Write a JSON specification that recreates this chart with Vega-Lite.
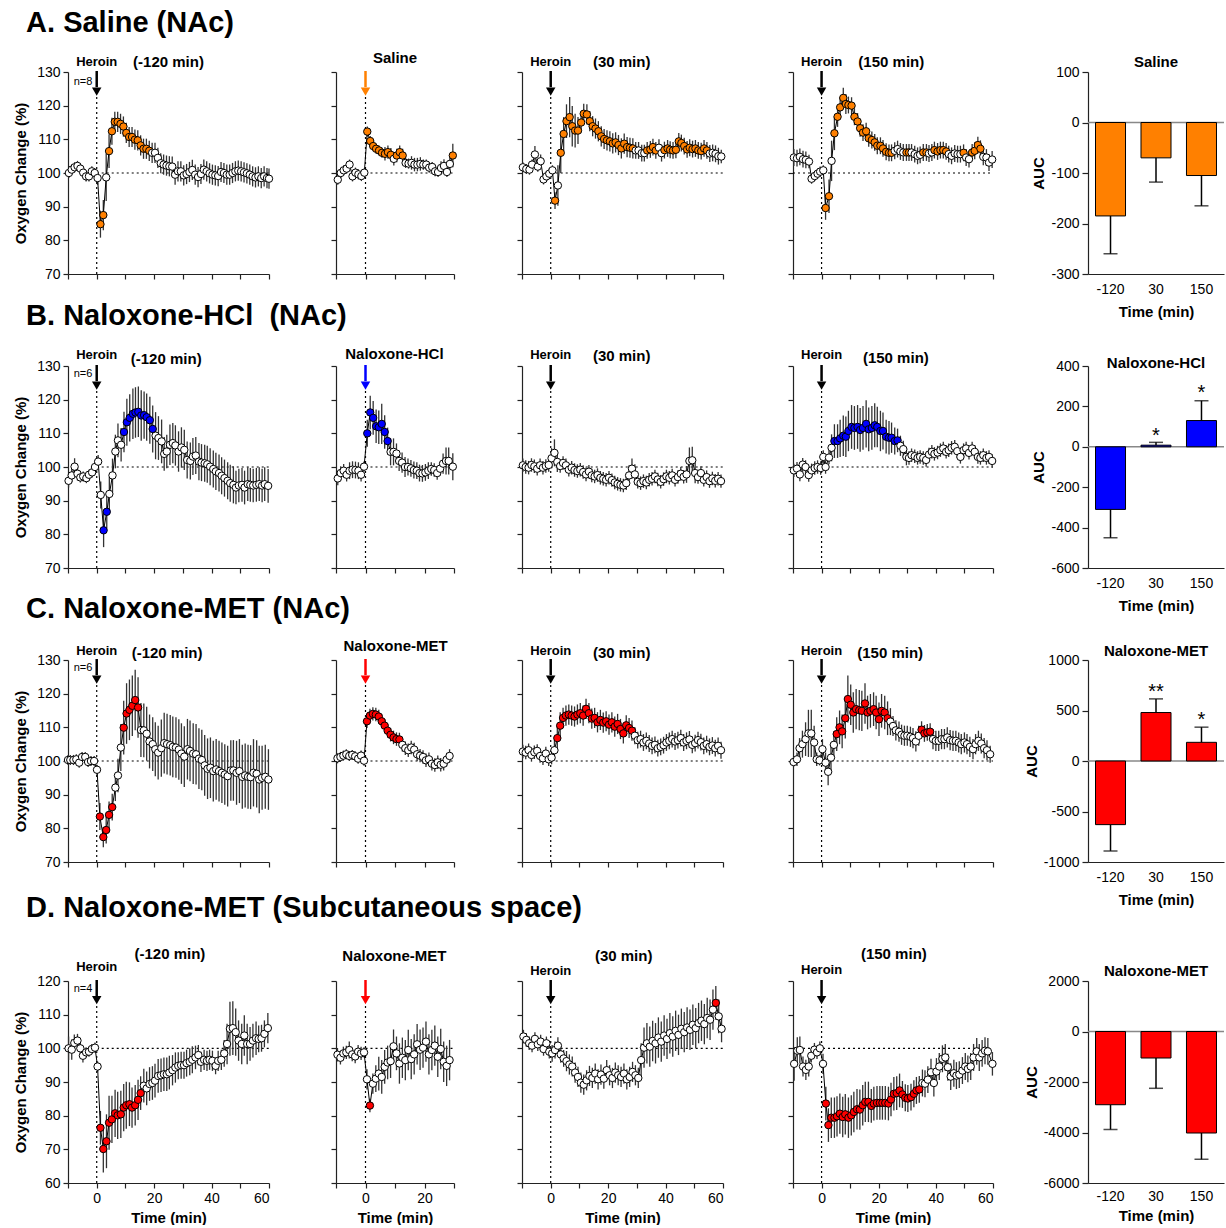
{
"$schema":"https://vega.github.io/schema/vega-lite/v6.json",
"padding":{"left":13,"top":8,"right":0,"bottom":0},
"config":{"view":{"stroke":null},"font":"Liberation Sans",
"axis":{"grid":false,"domainColor":"#222","domainWidth":1.2,"tickColor":"#222","tickWidth":1.2,"tickSize":5,"labelFont":"Liberation Sans","labelFontSize":14,"labelColor":"black","labelPadding":3,"titleFont":"Liberation Sans","titleFontSize":15,"titleFontWeight":"bold","titleColor":"black"},
"text":{"font":"Liberation Sans","color":"black"},
"locale":{"number":{"decimal":".","thousands":"","grouping":[3],"currency":["$",""],"minus":"-"}}},
"datasets":{
"A1":[{"t":-9.7,"y":100,"e":1.5},{"t":-8.7,"y":101,"e":1.5},{"t":-7.7,"y":101.7,"e":1.5},{"t":-6.7,"y":102.1,"e":1.5},{"t":-5.7,"y":101.3,"e":1.5},{"t":-4.7,"y":100.1,"e":1.5},{"t":-3.7,"y":99,"e":1.5},{"t":-2.7,"y":99,"e":1.5},{"t":-1.7,"y":100.5,"e":1.5},{"t":-0.7,"y":100,"e":1.5},{"t":0.3,"y":98.5,"e":2},{"t":1.3,"y":84.8,"e":4,"f":1},{"t":2.3,"y":87.5,"e":4.5,"f":1},{"t":3.3,"y":98.7,"e":7},{"t":4.3,"y":106.5,"e":5,"f":1},{"t":5.3,"y":112.4,"e":4,"f":1},{"t":6.3,"y":115.2,"e":3,"f":1},{"t":7.3,"y":115.2,"e":3,"f":1},{"t":8.3,"y":114.6,"e":3,"f":1},{"t":9.3,"y":113.8,"e":3,"f":1},{"t":10.3,"y":111.9,"e":3,"f":1},{"t":11.3,"y":110.7,"e":3,"f":1},{"t":12.3,"y":110.7,"e":3,"f":1},{"t":13.3,"y":109.9,"e":3,"f":1},{"t":14.3,"y":109.7,"e":3,"f":1},{"t":15.3,"y":108.2,"e":3,"f":1},{"t":16.3,"y":107.2,"e":3,"f":1},{"t":17.3,"y":107.2,"e":3,"f":1},{"t":18.3,"y":106.6,"e":3,"f":1},{"t":19.3,"y":106,"e":3},{"t":20.3,"y":106,"e":3},{"t":21.3,"y":104.5,"e":3},{"t":22.3,"y":102.9,"e":3},{"t":23.3,"y":102.5,"e":3},{"t":24.3,"y":102.2,"e":3},{"t":25.3,"y":102,"e":3},{"t":26.3,"y":101.9,"e":3},{"t":27.3,"y":99.5,"e":3},{"t":28.3,"y":100.5,"e":3},{"t":29.3,"y":100.5,"e":3},{"t":30.3,"y":99.3,"e":3},{"t":31.3,"y":99.7,"e":3},{"t":32.3,"y":100.3,"e":3},{"t":33.3,"y":100.9,"e":3},{"t":34.3,"y":99.5,"e":3},{"t":35.3,"y":98.8,"e":3},{"t":36.3,"y":99.7,"e":3},{"t":37.3,"y":101,"e":3},{"t":38.3,"y":100.5,"e":3},{"t":39.3,"y":99.9,"e":3},{"t":40.3,"y":99.5,"e":3},{"t":41.3,"y":99.3,"e":3},{"t":42.3,"y":99.1,"e":3},{"t":43.3,"y":100.3,"e":3},{"t":44.3,"y":100,"e":3},{"t":45.3,"y":99.5,"e":3},{"t":46.3,"y":99.5,"e":3},{"t":47.3,"y":100,"e":3},{"t":48.3,"y":100.5,"e":3},{"t":49.3,"y":100.7,"e":3},{"t":50.3,"y":100.5,"e":3},{"t":51.3,"y":100.2,"e":3},{"t":52.3,"y":99.9,"e":3},{"t":53.3,"y":99.5,"e":3},{"t":54.3,"y":99,"e":3},{"t":55.3,"y":98.7,"e":3},{"t":56.3,"y":99,"e":3},{"t":57.3,"y":98.5,"e":3},{"t":58.3,"y":99,"e":3},{"t":59.3,"y":98.5,"e":3},{"t":60,"y":98.3,"e":3}],
"A2":[{"t":-9.4,"y":98,"e":1.5},{"t":-8.4,"y":100,"e":1.5},{"t":-7.4,"y":100.8,"e":1.5},{"t":-6.4,"y":101.3,"e":1.5},{"t":-5.4,"y":102.5,"e":1.5},{"t":-4.4,"y":99,"e":1.5},{"t":-3.4,"y":100.1,"e":1.5},{"t":-2.4,"y":99.6,"e":1.5},{"t":-1.4,"y":99.1,"e":1.5},{"t":-0.4,"y":100.1,"e":1},{"t":0.6,"y":112.3,"e":1.5,"f":1},{"t":1.6,"y":109.5,"e":1.5,"f":1},{"t":2.6,"y":108,"e":1.5,"f":1},{"t":3.6,"y":107.2,"e":1.5,"f":1},{"t":4.6,"y":106.7,"e":1.5,"f":1},{"t":5.6,"y":106,"e":1.5,"f":1},{"t":6.6,"y":105.7,"e":2,"f":1},{"t":7.6,"y":106.2,"e":2,"f":1},{"t":8.6,"y":105.4,"e":2,"f":1},{"t":9.6,"y":104.2,"e":2},{"t":10.6,"y":105.2,"e":2,"f":1},{"t":11.6,"y":106.2,"e":2,"f":1},{"t":12.6,"y":105.2,"e":2,"f":1},{"t":13.6,"y":103,"e":1.5},{"t":14.6,"y":102.8,"e":1.5},{"t":15.6,"y":103,"e":2},{"t":16.6,"y":102.5,"e":2},{"t":17.6,"y":102.5,"e":2},{"t":18.6,"y":102.7,"e":2},{"t":19.6,"y":102.5,"e":1.5},{"t":20.6,"y":102.5,"e":1.5},{"t":21.6,"y":101.6,"e":1.5},{"t":22.6,"y":101.8,"e":1.5},{"t":23.6,"y":100.5,"e":1.5},{"t":24.6,"y":100.3,"e":1.5},{"t":25.6,"y":101.5,"e":2},{"t":26.6,"y":102.1,"e":2},{"t":27.6,"y":100.3,"e":1.5},{"t":28.6,"y":102.7,"e":2},{"t":29.6,"y":105.2,"e":3.5,"f":1}],
"A3":[{"t":-9.7,"y":101.7,"e":1.5},{"t":-8.5,"y":101.2,"e":1.5},{"t":-7.4,"y":101,"e":1.5},{"t":-6.5,"y":102.5,"e":1.5},{"t":-5.5,"y":105.5,"e":2.5},{"t":-4.5,"y":101.9,"e":1.5},{"t":-3.5,"y":103.5,"e":2},{"t":-2.5,"y":98.1,"e":1.5},{"t":-1.5,"y":99,"e":1.5},{"t":-0.5,"y":99.8,"e":1.5},{"t":0.6,"y":100.8,"e":1.5},{"t":1.5,"y":91.8,"e":2.5,"f":1},{"t":2.5,"y":96.3,"e":6},{"t":3.5,"y":106,"e":6,"f":1},{"t":4.5,"y":111.6,"e":5,"f":1},{"t":5.5,"y":115.4,"e":5,"f":1},{"t":6.6,"y":116.6,"e":6,"f":1},{"t":7.5,"y":113.9,"e":6,"f":1},{"t":8.5,"y":112.6,"e":5,"f":1},{"t":9.5,"y":112.6,"e":4,"f":1},{"t":10.6,"y":115,"e":3,"f":1},{"t":11.5,"y":117.6,"e":3,"f":1},{"t":12.6,"y":117.4,"e":3,"f":1},{"t":13.6,"y":115.4,"e":3,"f":1},{"t":14.6,"y":113.9,"e":3,"f":1},{"t":15.6,"y":113.2,"e":3,"f":1},{"t":16.6,"y":112.4,"e":3,"f":1},{"t":17.6,"y":110.9,"e":3,"f":1},{"t":18.6,"y":110.1,"e":3,"f":1},{"t":19.6,"y":109.7,"e":3,"f":1},{"t":20.6,"y":109.4,"e":3,"f":1},{"t":21.6,"y":108.8,"e":3,"f":1},{"t":22.6,"y":109.1,"e":3,"f":1},{"t":23.6,"y":108.3,"e":3,"f":1},{"t":24.6,"y":107.3,"e":3,"f":1},{"t":25.6,"y":108.7,"e":3,"f":1},{"t":26.6,"y":107.7,"e":3,"f":1},{"t":27.6,"y":107.5,"e":3,"f":1},{"t":28.6,"y":107.3,"e":3,"f":1},{"t":29.6,"y":106.7,"e":2.5},{"t":30.6,"y":106.7,"e":2.5},{"t":31.7,"y":105.9,"e":2.5},{"t":32.6,"y":105.9,"e":2.5},{"t":33.6,"y":106.7,"e":2.5,"f":1},{"t":34.7,"y":107,"e":2.5,"f":1},{"t":35.6,"y":107.7,"e":2.5,"f":1},{"t":36.6,"y":106.7,"e":2.5,"f":1},{"t":37.7,"y":107.5,"e":2.5},{"t":38.6,"y":105.9,"e":2.5},{"t":39.6,"y":106.8,"e":2.5,"f":1},{"t":40.7,"y":107.3,"e":2.5,"f":1},{"t":41.6,"y":106.9,"e":2.5,"f":1},{"t":42.6,"y":106.7,"e":2.5,"f":1},{"t":43.6,"y":106.9,"e":2.5,"f":1},{"t":44.6,"y":109.4,"e":2.5,"f":1},{"t":45.5,"y":108.9,"e":2.5,"f":1},{"t":46.5,"y":108,"e":2.5,"f":1},{"t":47.5,"y":107,"e":2.5,"f":1},{"t":48.4,"y":107.5,"e":2.5,"f":1},{"t":49.4,"y":107.1,"e":2.5,"f":1},{"t":50.4,"y":107.3,"e":2.5,"f":1},{"t":51.4,"y":106.7,"e":2.5,"f":1},{"t":52.4,"y":106.5,"e":2.5,"f":1},{"t":53.4,"y":107.3,"e":2.5,"f":1},{"t":54.4,"y":106.7,"e":2.5,"f":1},{"t":55.4,"y":105.8,"e":2.5},{"t":56.4,"y":106,"e":2.5},{"t":57.4,"y":105.7,"e":2.5},{"t":58.4,"y":105,"e":2.5},{"t":59.4,"y":104.9,"e":2}],
"A4":[{"t":-9.7,"y":104.6,"e":2.5},{"t":-8.6,"y":104.4,"e":2.5},{"t":-7.6,"y":104.8,"e":2.5},{"t":-6.5,"y":104.1,"e":2.5},{"t":-5.5,"y":103.9,"e":2.5},{"t":-4.4,"y":103.4,"e":2},{"t":-3.5,"y":98.3,"e":1.5},{"t":-2.4,"y":99.1,"e":1.5},{"t":-1.4,"y":99.8,"e":1.5},{"t":-0.5,"y":100.4,"e":1.5},{"t":0.6,"y":100.8,"e":1.5},{"t":1.4,"y":89.6,"e":3.5,"f":1},{"t":2.6,"y":93.1,"e":5,"f":1},{"t":3.5,"y":103.6,"e":6},{"t":4.5,"y":111.8,"e":5,"f":1},{"t":5.6,"y":116.7,"e":3,"f":1},{"t":6.5,"y":119.5,"e":3,"f":1},{"t":7.6,"y":122.3,"e":3,"f":1},{"t":8.5,"y":120.5,"e":3,"f":1},{"t":9.4,"y":120.2,"e":2.5,"f":1},{"t":10.5,"y":120,"e":2.5,"f":1},{"t":11.5,"y":116.7,"e":2.5,"f":1},{"t":12.6,"y":115.3,"e":2.5,"f":1},{"t":13.5,"y":113.3,"e":2.5,"f":1},{"t":14.5,"y":112,"e":2.5,"f":1},{"t":15.6,"y":112.4,"e":2.5,"f":1},{"t":16.5,"y":110.3,"e":2.5,"f":1},{"t":17.6,"y":109.8,"e":2.5,"f":1},{"t":18.6,"y":109.1,"e":2.5,"f":1},{"t":19.5,"y":108.1,"e":2.5,"f":1},{"t":20.6,"y":108.1,"e":2.5,"f":1},{"t":21.5,"y":107.3,"e":2.5,"f":1},{"t":22.6,"y":106.3,"e":2.5,"f":1},{"t":23.6,"y":106,"e":2.5,"f":1},{"t":24.5,"y":106,"e":2.5,"f":1},{"t":25.6,"y":106.6,"e":2.5},{"t":26.6,"y":107.1,"e":2.5},{"t":27.6,"y":106.4,"e":2.5},{"t":28.6,"y":106.1,"e":2.5},{"t":29.7,"y":106.1,"e":2.5,"f":1},{"t":30.6,"y":106.1,"e":2.5,"f":1},{"t":31.5,"y":106.1,"e":2.5},{"t":32.6,"y":105.6,"e":2.5},{"t":33.6,"y":105.1,"e":2.5},{"t":34.5,"y":105.4,"e":2.5},{"t":35.6,"y":106.1,"e":2.5,"f":1},{"t":36.7,"y":106.1,"e":2.5,"f":1},{"t":37.6,"y":105.8,"e":2.5},{"t":38.6,"y":106.1,"e":2.5},{"t":39.5,"y":106.8,"e":2.5,"f":1},{"t":40.6,"y":106.4,"e":2.5,"f":1},{"t":41.6,"y":106.8,"e":2.5,"f":1},{"t":42.6,"y":106.8,"e":2.5,"f":1},{"t":43.6,"y":106.4,"e":2.5,"f":1},{"t":44.5,"y":105.6,"e":2.5},{"t":45.5,"y":105.1,"e":2.5},{"t":46.6,"y":105.8,"e":2.5},{"t":47.6,"y":105.6,"e":2.5},{"t":48.6,"y":105.6,"e":2.5},{"t":49.7,"y":106,"e":2.5,"f":1},{"t":50.6,"y":104.6,"e":2.5},{"t":51.6,"y":104.1,"e":2.5},{"t":52.7,"y":106.1,"e":2.5,"f":1},{"t":53.6,"y":106.6,"e":2.5,"f":1},{"t":54.7,"y":108.3,"e":2.5,"f":1},{"t":55.6,"y":107.2,"e":2.5,"f":1},{"t":56.6,"y":104.8,"e":2.5},{"t":57.7,"y":104.6,"e":2.5},{"t":58.6,"y":103.1,"e":2.5},{"t":59.7,"y":104,"e":2.5}],
"B1":[{"t":-9.8,"y":95.9,"e":2},{"t":-8.7,"y":97.5,"e":2},{"t":-7.7,"y":100.1,"e":2.5},{"t":-6.7,"y":98,"e":2},{"t":-5.7,"y":96.9,"e":1.5},{"t":-4.7,"y":97.2,"e":1.5},{"t":-3.6,"y":96.7,"e":1.5},{"t":-2.7,"y":97.7,"e":1.5},{"t":-1.6,"y":98.4,"e":1.5},{"t":-0.6,"y":100,"e":2},{"t":0.5,"y":101.6,"e":2},{"t":1.4,"y":91.7,"e":4},{"t":2.4,"y":81.2,"e":5,"f":1},{"t":3.5,"y":86.7,"e":5,"f":1},{"t":4.4,"y":92,"e":5},{"t":5.5,"y":97.5,"e":5},{"t":6.5,"y":104.6,"e":5},{"t":7.4,"y":107.9,"e":5},{"t":8.5,"y":106.6,"e":5},{"t":9.5,"y":110.4,"e":6,"f":1},{"t":10.5,"y":113.3,"e":7,"f":1},{"t":11.5,"y":114.6,"e":7,"f":1},{"t":12.6,"y":115.8,"e":7.5,"f":1},{"t":13.5,"y":116.2,"e":7.5,"f":1},{"t":14.5,"y":116.4,"e":7.5,"f":1},{"t":15.5,"y":115.3,"e":7.5,"f":1},{"t":16.5,"y":115.4,"e":7,"f":1},{"t":17.4,"y":114.8,"e":7,"f":1},{"t":18.5,"y":113.9,"e":7,"f":1},{"t":19.5,"y":111.3,"e":7,"f":1},{"t":20.5,"y":109.3,"e":7},{"t":21.5,"y":108.6,"e":6.5},{"t":22.6,"y":107.6,"e":6.5},{"t":23.5,"y":103.9,"e":5},{"t":24.4,"y":104.6,"e":5},{"t":25.5,"y":106.6,"e":6},{"t":26.5,"y":107.1,"e":6},{"t":27.4,"y":106.4,"e":6},{"t":28.5,"y":104.6,"e":6},{"t":29.5,"y":105.8,"e":6},{"t":30.5,"y":105.1,"e":6},{"t":31.5,"y":102.1,"e":5.5},{"t":32.6,"y":101.8,"e":5.5},{"t":33.5,"y":103.1,"e":5.5},{"t":34.5,"y":103.4,"e":5.5},{"t":35.6,"y":101.6,"e":5.5},{"t":36.5,"y":101.3,"e":5.5},{"t":37.6,"y":101.1,"e":5.5},{"t":38.5,"y":100.8,"e":5.5},{"t":39.5,"y":100.1,"e":5.5},{"t":40.6,"y":99.4,"e":5.5},{"t":41.5,"y":98.7,"e":5.5},{"t":42.6,"y":98.2,"e":5.5},{"t":43.5,"y":97.4,"e":5.5},{"t":44.5,"y":96.7,"e":5.5},{"t":45.6,"y":95.9,"e":5.5},{"t":46.5,"y":95.2,"e":5.5},{"t":47.6,"y":94.7,"e":5.5},{"t":48.5,"y":93.9,"e":5},{"t":49.5,"y":94.5,"e":5},{"t":50.6,"y":94.7,"e":5},{"t":51.5,"y":93.9,"e":5},{"t":52.6,"y":94.9,"e":5},{"t":53.5,"y":94.7,"e":5},{"t":54.5,"y":94.5,"e":5},{"t":55.6,"y":94.7,"e":5},{"t":56.6,"y":94.9,"e":5},{"t":57.6,"y":94.5,"e":5},{"t":58.5,"y":94.9,"e":5},{"t":59.7,"y":94.4,"e":5}],
"B2":[{"t":-9.4,"y":96.6,"e":2},{"t":-8.4,"y":98.2,"e":2},{"t":-7.4,"y":98.9,"e":2},{"t":-6.4,"y":97.7,"e":2},{"t":-5.4,"y":98.9,"e":2.5},{"t":-4.4,"y":99.2,"e":2.5},{"t":-3.4,"y":99.1,"e":2.5},{"t":-2.4,"y":98.9,"e":2.5},{"t":-1.5,"y":97.7,"e":2},{"t":-0.5,"y":100.1,"e":1.5},{"t":0.6,"y":110,"e":4,"f":1},{"t":1.6,"y":116.2,"e":5,"f":1},{"t":2.6,"y":114.6,"e":5,"f":1},{"t":3.6,"y":112.1,"e":5,"f":1},{"t":4.5,"y":111.8,"e":5,"f":1},{"t":5.5,"y":112.8,"e":6,"f":1},{"t":6.5,"y":110.4,"e":5,"f":1},{"t":7.5,"y":107.7,"e":4,"f":1},{"t":8.5,"y":104.5,"e":4},{"t":9.5,"y":104.5,"e":4},{"t":10.5,"y":104,"e":3},{"t":11.4,"y":101.8,"e":3},{"t":12.4,"y":101.3,"e":3},{"t":13.4,"y":100,"e":3},{"t":14.4,"y":100,"e":2.5},{"t":15.4,"y":99.6,"e":2.5},{"t":16.4,"y":99.1,"e":2.5},{"t":17.4,"y":98.9,"e":2.5},{"t":18.3,"y":98.2,"e":2.5},{"t":19.3,"y":98.1,"e":2.5},{"t":20.3,"y":98.4,"e":2.5},{"t":21.3,"y":98.9,"e":2.5},{"t":22.3,"y":99.4,"e":2},{"t":23.3,"y":99.1,"e":2},{"t":24.3,"y":98.2,"e":2},{"t":25.3,"y":99.5,"e":2},{"t":26.3,"y":101,"e":3},{"t":27.3,"y":101.8,"e":4},{"t":28.2,"y":101.8,"e":4},{"t":29.6,"y":100.1,"e":4}],
"B3":[{"t":-9.7,"y":100.5,"e":2},{"t":-8.7,"y":100,"e":2},{"t":-7.7,"y":99.8,"e":2},{"t":-6.7,"y":100.6,"e":2},{"t":-5.7,"y":100.2,"e":2},{"t":-4.7,"y":99.5,"e":2},{"t":-3.7,"y":100.5,"e":2},{"t":-2.7,"y":99.8,"e":2},{"t":-1.7,"y":100.3,"e":2},{"t":-0.7,"y":100.6,"e":2},{"t":0.3,"y":102.6,"e":3},{"t":1.3,"y":104.2,"e":4},{"t":2.3,"y":101.5,"e":3},{"t":3.3,"y":100.3,"e":2},{"t":4.3,"y":101.2,"e":2},{"t":5.3,"y":100.5,"e":2},{"t":6.3,"y":99.2,"e":2},{"t":7.3,"y":99.8,"e":2},{"t":8.3,"y":99.1,"e":2},{"t":9.3,"y":98.8,"e":2},{"t":10.3,"y":99.2,"e":2},{"t":11.3,"y":98.5,"e":2},{"t":12.3,"y":97.8,"e":2},{"t":13.3,"y":98.6,"e":2},{"t":14.3,"y":97.5,"e":2},{"t":15.3,"y":97.2,"e":2},{"t":16.3,"y":97.6,"e":2},{"t":17.3,"y":96.8,"e":2},{"t":18.3,"y":96.5,"e":2},{"t":19.3,"y":96.2,"e":2},{"t":20.3,"y":96.8,"e":2},{"t":21.3,"y":96.1,"e":2},{"t":22.3,"y":95.4,"e":2},{"t":23.3,"y":95,"e":2},{"t":24.3,"y":94.7,"e":2},{"t":25.3,"y":94.5,"e":2},{"t":26.3,"y":95.2,"e":2},{"t":27.3,"y":97.5,"e":3},{"t":28.3,"y":99.5,"e":3},{"t":29.3,"y":97.8,"e":3},{"t":30.3,"y":95.6,"e":2},{"t":31.3,"y":95.2,"e":2},{"t":32.3,"y":95.8,"e":2},{"t":33.3,"y":95.4,"e":2},{"t":34.3,"y":96.2,"e":2},{"t":35.3,"y":96.5,"e":2},{"t":36.3,"y":97.2,"e":2},{"t":37.3,"y":96.3,"e":2},{"t":38.3,"y":95.6,"e":2},{"t":39.3,"y":96.4,"e":2},{"t":40.3,"y":97.2,"e":2},{"t":41.3,"y":96.8,"e":2},{"t":42.3,"y":97.5,"e":2},{"t":43.3,"y":96.2,"e":2},{"t":44.3,"y":97,"e":2},{"t":45.3,"y":98,"e":2},{"t":46.3,"y":97.1,"e":2},{"t":47.3,"y":97.8,"e":2.5},{"t":48.3,"y":101.8,"e":4},{"t":49.3,"y":102,"e":4},{"t":50.3,"y":98.2,"e":3},{"t":51.3,"y":97,"e":2},{"t":52.3,"y":98.2,"e":2},{"t":53.3,"y":96.2,"e":2},{"t":54.3,"y":97,"e":2},{"t":55.3,"y":95.8,"e":2},{"t":56.3,"y":96.6,"e":2},{"t":57.3,"y":95.9,"e":2},{"t":58.3,"y":96.5,"e":2},{"t":59.3,"y":95.8,"e":2}],
"B4":[{"t":-9.7,"y":99,"e":2},{"t":-8.6,"y":99.5,"e":2},{"t":-7.6,"y":97.8,"e":2},{"t":-6.6,"y":100.7,"e":2},{"t":-5.6,"y":100,"e":2},{"t":-4.5,"y":97.6,"e":2},{"t":-3.5,"y":99,"e":2},{"t":-2.4,"y":99.7,"e":2},{"t":-1.4,"y":100,"e":2},{"t":-0.3,"y":99.7,"e":2},{"t":0.6,"y":103,"e":2},{"t":1.4,"y":100,"e":2},{"t":2.6,"y":102.8,"e":2},{"t":3.5,"y":105.7,"e":4},{"t":4.5,"y":107.7,"e":5,"f":1},{"t":5.6,"y":107.7,"e":5,"f":1},{"t":6.5,"y":108.5,"e":5.5,"f":1},{"t":7.6,"y":109.3,"e":6,"f":1},{"t":8.5,"y":109,"e":6,"f":1},{"t":9.4,"y":110.7,"e":6,"f":1},{"t":10.5,"y":111.9,"e":6.5,"f":1},{"t":11.5,"y":111.6,"e":6.5,"f":1},{"t":12.6,"y":111.9,"e":6.5,"f":1},{"t":13.5,"y":111,"e":6.5,"f":1},{"t":14.5,"y":111.6,"e":6.5,"f":1},{"t":15.6,"y":112.8,"e":7,"f":1},{"t":16.5,"y":111.2,"e":6.5,"f":1},{"t":17.6,"y":111.6,"e":6.5,"f":1},{"t":18.6,"y":112.4,"e":6.5,"f":1},{"t":19.5,"y":111.9,"e":6,"f":1},{"t":20.6,"y":110.7,"e":6,"f":1},{"t":21.5,"y":110.7,"e":5.5,"f":1},{"t":22.6,"y":109,"e":5,"f":1},{"t":23.6,"y":108.7,"e":5,"f":1},{"t":24.5,"y":108.7,"e":4.5,"f":1},{"t":25.6,"y":107.7,"e":4,"f":1},{"t":26.6,"y":107.9,"e":3.5,"f":1},{"t":27.6,"y":106.3,"e":3},{"t":28.6,"y":105.3,"e":2.5},{"t":29.7,"y":103,"e":2.5},{"t":30.6,"y":102.7,"e":2},{"t":31.5,"y":103.5,"e":2},{"t":32.6,"y":103.2,"e":2},{"t":33.6,"y":102.7,"e":2},{"t":34.5,"y":103,"e":2},{"t":35.6,"y":102.7,"e":2},{"t":36.6,"y":102.1,"e":2},{"t":37.6,"y":103.7,"e":2},{"t":38.6,"y":104.5,"e":2},{"t":39.5,"y":103.9,"e":2},{"t":40.6,"y":104.3,"e":2},{"t":41.6,"y":105,"e":2},{"t":42.6,"y":105.5,"e":2},{"t":43.6,"y":104.5,"e":2},{"t":44.5,"y":105,"e":2},{"t":45.5,"y":105.7,"e":2},{"t":46.6,"y":106,"e":2},{"t":47.5,"y":104.7,"e":2},{"t":48.6,"y":103,"e":2},{"t":49.7,"y":105,"e":2},{"t":50.6,"y":105.5,"e":2},{"t":51.6,"y":104.2,"e":2},{"t":52.7,"y":105.5,"e":2},{"t":53.6,"y":104.5,"e":2},{"t":54.7,"y":103,"e":2},{"t":55.6,"y":102.7,"e":2},{"t":56.6,"y":103.5,"e":2},{"t":57.7,"y":102.7,"e":2},{"t":58.6,"y":103,"e":2},{"t":59.7,"y":101.8,"e":2}],
"C1":[{"t":-10,"y":100.3,"e":1.5},{"t":-9.2,"y":100.3,"e":1.5},{"t":-8.1,"y":100.3,"e":1.5},{"t":-7.1,"y":100.5,"e":1.5},{"t":-6.1,"y":99.5,"e":1.5},{"t":-5.1,"y":101.2,"e":1.5},{"t":-4,"y":101.2,"e":1.5},{"t":-3,"y":99.7,"e":1.5},{"t":-2,"y":100,"e":1.5},{"t":-0.9,"y":100,"e":1.5},{"t":0.1,"y":97.4,"e":1.5},{"t":1.1,"y":83.5,"e":4,"f":1},{"t":2.3,"y":77.4,"e":3,"f":1},{"t":3.3,"y":79.5,"e":4,"f":1},{"t":4.3,"y":84,"e":4,"f":1},{"t":5.4,"y":86.3,"e":4,"f":1},{"t":6.5,"y":92.1,"e":4},{"t":7.4,"y":95.7,"e":5},{"t":8.4,"y":104,"e":7},{"t":9.4,"y":109.9,"e":8,"f":1},{"t":10.4,"y":114.1,"e":9,"f":1},{"t":11.4,"y":115.2,"e":9,"f":1},{"t":12.4,"y":116.4,"e":9,"f":1},{"t":13.4,"y":118.1,"e":9,"f":1},{"t":14.4,"y":115.9,"e":9,"f":1},{"t":15.4,"y":109.2,"e":8},{"t":16.4,"y":109.1,"e":8},{"t":17.4,"y":108.1,"e":8},{"t":18.4,"y":105.8,"e":8},{"t":19.5,"y":105,"e":8},{"t":20.4,"y":103.5,"e":8},{"t":21.4,"y":102.5,"e":8},{"t":22.5,"y":103.8,"e":8.5},{"t":23.5,"y":105.3,"e":9},{"t":24.5,"y":105,"e":9},{"t":25.6,"y":104.7,"e":9},{"t":26.5,"y":104.2,"e":9},{"t":27.6,"y":104,"e":9},{"t":28.6,"y":103.4,"e":9},{"t":29.5,"y":102.2,"e":9},{"t":30.5,"y":101.3,"e":9},{"t":31.6,"y":103.5,"e":9},{"t":32.5,"y":103,"e":9},{"t":33.6,"y":102.2,"e":9},{"t":34.6,"y":102,"e":9},{"t":35.6,"y":100.7,"e":9},{"t":36.6,"y":100.3,"e":9},{"t":37.6,"y":98.7,"e":9},{"t":38.6,"y":97.7,"e":9},{"t":39.6,"y":98,"e":9},{"t":40.6,"y":97,"e":9},{"t":41.6,"y":97.5,"e":9},{"t":42.6,"y":97,"e":9},{"t":43.6,"y":96.5,"e":9},{"t":44.6,"y":96,"e":9},{"t":45.6,"y":95.5,"e":9},{"t":46.7,"y":97.2,"e":9},{"t":47.6,"y":97.2,"e":9},{"t":48.7,"y":96.5,"e":9.5},{"t":49.7,"y":97,"e":9.5},{"t":50.7,"y":95.3,"e":9.5},{"t":51.7,"y":95.7,"e":9.5},{"t":52.7,"y":95.3,"e":9.5},{"t":53.6,"y":95.2,"e":9.5},{"t":54.6,"y":96.5,"e":10},{"t":55.7,"y":96.2,"e":10},{"t":56.6,"y":94.5,"e":10},{"t":57.6,"y":95,"e":9.5},{"t":58.7,"y":95.3,"e":9.5},{"t":59.8,"y":94.5,"e":9}],
"C2":[{"t":-9.5,"y":100.8,"e":1.5},{"t":-8.5,"y":101.2,"e":1.5},{"t":-7.5,"y":101.6,"e":1.5},{"t":-6.5,"y":102,"e":1.5},{"t":-5.5,"y":101.5,"e":1.5},{"t":-4.5,"y":101.8,"e":1.5},{"t":-3.5,"y":101.4,"e":1.5},{"t":-2.5,"y":100.7,"e":1.5},{"t":-1.5,"y":101.6,"e":1.5},{"t":-0.5,"y":100.1,"e":1.5},{"t":0.5,"y":111.8,"e":2,"f":1},{"t":1.5,"y":113.5,"e":2,"f":1},{"t":2.5,"y":114,"e":2,"f":1},{"t":3.5,"y":113.8,"e":2,"f":1},{"t":4.5,"y":113.2,"e":2,"f":1},{"t":5.5,"y":111.8,"e":2,"f":1},{"t":6.5,"y":110.5,"e":2,"f":1},{"t":7.5,"y":109,"e":2,"f":1},{"t":8.5,"y":107.8,"e":2,"f":1},{"t":9.5,"y":107,"e":2,"f":1},{"t":10.5,"y":106.5,"e":2,"f":1},{"t":11.5,"y":106.4,"e":2,"f":1},{"t":12.5,"y":104.8,"e":2},{"t":13.5,"y":103.8,"e":2},{"t":14.5,"y":103.2,"e":2},{"t":15.5,"y":104,"e":2},{"t":16.5,"y":103.4,"e":2},{"t":17.5,"y":102,"e":2},{"t":18.5,"y":101.6,"e":2},{"t":19.5,"y":101.2,"e":2},{"t":20.5,"y":100.2,"e":2},{"t":21.5,"y":100.5,"e":2},{"t":22.5,"y":99.2,"e":2},{"t":23.5,"y":98.8,"e":2},{"t":24.5,"y":99.6,"e":2},{"t":25.5,"y":98.9,"e":2},{"t":26.5,"y":99.2,"e":2},{"t":27.5,"y":100.4,"e":2},{"t":28.5,"y":101.5,"e":2}],
"C3":[{"t":-9.7,"y":102.8,"e":2},{"t":-8.7,"y":102.5,"e":2},{"t":-7.7,"y":103.2,"e":2},{"t":-6.7,"y":101.8,"e":2},{"t":-5.7,"y":102.6,"e":2},{"t":-4.7,"y":103,"e":2},{"t":-3.7,"y":101.5,"e":2},{"t":-2.7,"y":100.8,"e":2},{"t":-1.7,"y":102.2,"e":2},{"t":-0.7,"y":100.5,"e":2},{"t":0.3,"y":101,"e":2},{"t":1.3,"y":103.2,"e":3},{"t":2.3,"y":106.8,"e":4,"f":1},{"t":3.3,"y":110.5,"e":4,"f":1},{"t":4.3,"y":112.8,"e":3,"f":1},{"t":5.3,"y":113.5,"e":3,"f":1},{"t":6.3,"y":113.8,"e":3,"f":1},{"t":7.3,"y":113.5,"e":3,"f":1},{"t":8.3,"y":113.2,"e":3,"f":1},{"t":9.3,"y":113.8,"e":3,"f":1},{"t":10.3,"y":114.2,"e":3,"f":1},{"t":11.3,"y":113.5,"e":3,"f":1},{"t":12.3,"y":115.5,"e":3,"f":1},{"t":13.3,"y":114.2,"e":3,"f":1},{"t":14.3,"y":112.6,"e":3,"f":1},{"t":15.3,"y":112.8,"e":3,"f":1},{"t":16.3,"y":111.5,"e":3,"f":1},{"t":17.3,"y":112.2,"e":3,"f":1},{"t":18.3,"y":111.4,"e":3,"f":1},{"t":19.3,"y":111.8,"e":3,"f":1},{"t":20.3,"y":110.8,"e":3,"f":1},{"t":21.3,"y":111.5,"e":3,"f":1},{"t":22.3,"y":110.2,"e":3,"f":1},{"t":23.3,"y":111,"e":3,"f":1},{"t":24.3,"y":109.5,"e":3,"f":1},{"t":25.3,"y":108.2,"e":3,"f":1},{"t":26.3,"y":110.6,"e":3,"f":1},{"t":27.3,"y":109.8,"e":3,"f":1},{"t":28.3,"y":109,"e":3,"f":1},{"t":29.3,"y":107.5,"e":2.5},{"t":30.3,"y":106.2,"e":2.5},{"t":31.3,"y":106.5,"e":2.5},{"t":32.3,"y":105.5,"e":2.5},{"t":33.3,"y":106,"e":2.5},{"t":34.3,"y":105.2,"e":2.5},{"t":35.3,"y":104.5,"e":2.5},{"t":36.3,"y":104.8,"e":2.5},{"t":37.3,"y":103.8,"e":2.5},{"t":38.3,"y":104.2,"e":2.5},{"t":39.3,"y":104.7,"e":2.5},{"t":40.3,"y":105.5,"e":2.5},{"t":41.3,"y":106,"e":2.5},{"t":42.3,"y":106.5,"e":2.5},{"t":43.3,"y":105.8,"e":2.5},{"t":44.3,"y":106.2,"e":2.5},{"t":45.3,"y":106.8,"e":2.5},{"t":46.3,"y":105.5,"e":2.5},{"t":47.3,"y":106,"e":2.5},{"t":48.3,"y":106.4,"e":2.5},{"t":49.3,"y":104.8,"e":2.5},{"t":50.3,"y":105.3,"e":2.5},{"t":51.3,"y":106.2,"e":2.5},{"t":52.3,"y":105.6,"e":2.5},{"t":53.3,"y":104.5,"e":2.5},{"t":54.3,"y":105,"e":2.5},{"t":55.3,"y":104.2,"e":2.5},{"t":56.3,"y":104.6,"e":2.5},{"t":57.3,"y":103.8,"e":2.5},{"t":58.3,"y":104.5,"e":2.5},{"t":59.3,"y":103.2,"e":2.5}],
"C4":[{"t":-9.8,"y":99.7,"e":1.5},{"t":-8.6,"y":100.5,"e":2},{"t":-7.7,"y":103.8,"e":3},{"t":-6.7,"y":105,"e":4},{"t":-5.6,"y":106.5,"e":5},{"t":-4.6,"y":108.2,"e":7},{"t":-3.6,"y":108.2,"e":7},{"t":-2.6,"y":105.5,"e":5},{"t":-1.7,"y":100.5,"e":2},{"t":-0.7,"y":100.2,"e":1.5},{"t":0.3,"y":103.5,"e":3},{"t":1.4,"y":99.5,"e":3},{"t":2.3,"y":96.8,"e":4},{"t":3.3,"y":101,"e":4},{"t":4.3,"y":104.8,"e":4},{"t":5.3,"y":108,"e":5,"f":1},{"t":6.3,"y":110,"e":5,"f":1},{"t":7.2,"y":108.8,"e":5,"f":1},{"t":8.3,"y":112.7,"e":6,"f":1},{"t":9.2,"y":118.4,"e":7,"f":1},{"t":10.2,"y":116.7,"e":6,"f":1},{"t":11.1,"y":114.4,"e":6,"f":1},{"t":12.1,"y":115.4,"e":6,"f":1},{"t":13.2,"y":115.1,"e":6,"f":1},{"t":14.1,"y":114.9,"e":6,"f":1},{"t":15.2,"y":117.1,"e":6,"f":1},{"t":16.1,"y":114.4,"e":5,"f":1},{"t":17.1,"y":114.9,"e":5,"f":1},{"t":18.2,"y":115.4,"e":5,"f":1},{"t":19.1,"y":114.4,"e":5,"f":1},{"t":20.1,"y":112.4,"e":5,"f":1},{"t":21,"y":114.9,"e":5,"f":1},{"t":22.1,"y":114.4,"e":5,"f":1},{"t":23.1,"y":112.7,"e":5,"f":1},{"t":24.1,"y":111.7,"e":4},{"t":25,"y":110.4,"e":3},{"t":26,"y":109.1,"e":3},{"t":27.1,"y":108.7,"e":3},{"t":28,"y":107.8,"e":3},{"t":29,"y":107.5,"e":3},{"t":30,"y":107.5,"e":3},{"t":31.1,"y":107.2,"e":3},{"t":32,"y":106.8,"e":3},{"t":33,"y":105.8,"e":3},{"t":34,"y":107.5,"e":3},{"t":35,"y":109.3,"e":2.5,"f":1},{"t":36,"y":108.2,"e":2.5,"f":1},{"t":37,"y":108.5,"e":2.5,"f":1},{"t":38,"y":108.7,"e":2.5,"f":1},{"t":39,"y":106.5,"e":3},{"t":40,"y":106,"e":3},{"t":41,"y":106,"e":3},{"t":42,"y":106.5,"e":3},{"t":43,"y":106.5,"e":3},{"t":44,"y":107,"e":3},{"t":45,"y":106.2,"e":3},{"t":46,"y":106,"e":3},{"t":47,"y":106,"e":3},{"t":48,"y":105.5,"e":3},{"t":48.9,"y":105,"e":3},{"t":50,"y":105.5,"e":3},{"t":50.9,"y":105,"e":3},{"t":51.9,"y":104.2,"e":3},{"t":53,"y":103.5,"e":3},{"t":53.9,"y":105,"e":3},{"t":54.9,"y":106,"e":3},{"t":55.9,"y":105.2,"e":3},{"t":56.9,"y":103.8,"e":3},{"t":57.9,"y":103.2,"e":3},{"t":59,"y":102,"e":2.5}],
"D1":[{"t":-9.8,"y":100,"e":3.5},{"t":-8.7,"y":99.6,"e":3},{"t":-7.8,"y":101.6,"e":2.5},{"t":-6.7,"y":102.3,"e":2},{"t":-5.7,"y":100,"e":2},{"t":-4.8,"y":97.8,"e":2},{"t":-3.7,"y":98.8,"e":1.5},{"t":-2.7,"y":99,"e":1.5},{"t":-1.7,"y":99.8,"e":1.5},{"t":-0.6,"y":100.2,"e":1.5},{"t":0.3,"y":94.6,"e":1.5},{"t":1.3,"y":76.4,"e":5,"f":1},{"t":2.3,"y":70.1,"e":7,"f":1},{"t":3.4,"y":72.4,"e":8,"f":1},{"t":4.3,"y":77.9,"e":8,"f":1},{"t":5.3,"y":78.9,"e":7,"f":1},{"t":6.4,"y":80.7,"e":7,"f":1},{"t":7.3,"y":80.1,"e":7,"f":1},{"t":8.4,"y":80.4,"e":7,"f":1},{"t":9.4,"y":82.4,"e":7,"f":1},{"t":10.3,"y":83.1,"e":7,"f":1},{"t":11.4,"y":83.4,"e":6.5,"f":1},{"t":12.3,"y":82.4,"e":6,"f":1},{"t":13.4,"y":83.1,"e":6,"f":1},{"t":14.4,"y":84.7,"e":6,"f":1},{"t":15.3,"y":86.7,"e":5,"f":1},{"t":16.4,"y":88.9,"e":5},{"t":17.4,"y":88.1,"e":5},{"t":18.4,"y":89.4,"e":5},{"t":19.4,"y":89.7,"e":5},{"t":20.3,"y":90.4,"e":5},{"t":21.4,"y":91.8,"e":5},{"t":22.4,"y":92,"e":5},{"t":23.4,"y":92.3,"e":5},{"t":24.4,"y":92.3,"e":5},{"t":25.3,"y":92.8,"e":5},{"t":26.4,"y":93.5,"e":4.5},{"t":27.4,"y":94.3,"e":4.5},{"t":28.4,"y":94.8,"e":4},{"t":29.4,"y":95,"e":4},{"t":30.4,"y":95,"e":4},{"t":31.3,"y":95.6,"e":4},{"t":32.4,"y":96,"e":4},{"t":33.3,"y":96.6,"e":4},{"t":34.4,"y":97.3,"e":3.5},{"t":35.4,"y":98,"e":3},{"t":36.3,"y":96,"e":3},{"t":37.4,"y":96.6,"e":3},{"t":38.4,"y":96.3,"e":3},{"t":39.3,"y":96.6,"e":3},{"t":40.3,"y":96.3,"e":3},{"t":41.4,"y":94.8,"e":2.5},{"t":42.3,"y":96.3,"e":3},{"t":43.4,"y":96.6,"e":3},{"t":44.4,"y":98.5,"e":4},{"t":45.4,"y":101.3,"e":6},{"t":46.4,"y":105.8,"e":8},{"t":47.4,"y":106,"e":8},{"t":48.4,"y":104.8,"e":7},{"t":49.4,"y":102.3,"e":6},{"t":50.5,"y":101.3,"e":6},{"t":51.4,"y":103.8,"e":6},{"t":52.4,"y":101.3,"e":6},{"t":53.4,"y":101.3,"e":5},{"t":54.4,"y":102.3,"e":5},{"t":55.5,"y":103,"e":5},{"t":56.4,"y":102.8,"e":4},{"t":57.4,"y":103,"e":4},{"t":58.4,"y":104.3,"e":4},{"t":59.6,"y":106,"e":4.5}],
"D2":[{"t":-9.5,"y":98.1,"e":2},{"t":-8.5,"y":97.2,"e":2},{"t":-7.5,"y":98.5,"e":2},{"t":-6.5,"y":98.8,"e":2},{"t":-5.5,"y":99.5,"e":2.5},{"t":-4.5,"y":98.2,"e":2},{"t":-3.5,"y":97.6,"e":2},{"t":-2.5,"y":99,"e":2},{"t":-1.5,"y":98.5,"e":2},{"t":-0.5,"y":98.8,"e":1.5},{"t":0.5,"y":90.8,"e":3},{"t":1.5,"y":83,"e":2,"f":1},{"t":2.5,"y":89.5,"e":3},{"t":3.5,"y":91,"e":4},{"t":4.5,"y":92.5,"e":5},{"t":5.5,"y":91.5,"e":5},{"t":6.5,"y":94.5,"e":5},{"t":7.5,"y":95.8,"e":5},{"t":8.5,"y":96.2,"e":5},{"t":9.5,"y":100.6,"e":5},{"t":10.5,"y":98.5,"e":5},{"t":11.5,"y":95.5,"e":6},{"t":12.5,"y":97.2,"e":6},{"t":13.5,"y":96.5,"e":6},{"t":14.5,"y":99.5,"e":6},{"t":15.5,"y":96.8,"e":6},{"t":16.5,"y":98.2,"e":6},{"t":17.5,"y":101.2,"e":6},{"t":18.5,"y":99.6,"e":6},{"t":19.5,"y":100.2,"e":6},{"t":20.5,"y":102,"e":6},{"t":21.5,"y":98.2,"e":6},{"t":22.5,"y":99.5,"e":6},{"t":23.5,"y":100.8,"e":6},{"t":24.5,"y":97.5,"e":6},{"t":25.5,"y":99.8,"e":6},{"t":26.5,"y":96,"e":6},{"t":27.5,"y":94.8,"e":6},{"t":28.5,"y":96.5,"e":6}],
"D3":[{"t":-9.5,"y":103.5,"e":2},{"t":-8.5,"y":102.5,"e":2},{"t":-7.5,"y":101.5,"e":2},{"t":-6.5,"y":100.8,"e":2},{"t":-5.5,"y":102.8,"e":2},{"t":-4.5,"y":101.2,"e":2},{"t":-3.5,"y":102,"e":2},{"t":-2.5,"y":99.8,"e":2},{"t":-1.5,"y":101.5,"e":2},{"t":-0.5,"y":99,"e":2},{"t":0.5,"y":98.5,"e":2.5},{"t":1.5,"y":99.5,"e":2.5},{"t":2.5,"y":100.8,"e":2.5},{"t":3.5,"y":98.2,"e":2.5},{"t":4.5,"y":97,"e":2.5},{"t":5.5,"y":96.2,"e":3},{"t":6.5,"y":95.2,"e":3},{"t":7.5,"y":94.6,"e":3},{"t":8.5,"y":92.8,"e":3},{"t":9.5,"y":91.5,"e":3},{"t":10.5,"y":89.8,"e":3},{"t":11.5,"y":89.2,"e":3},{"t":12.5,"y":90.5,"e":3},{"t":13.5,"y":91.8,"e":3},{"t":14.5,"y":91.2,"e":3},{"t":15.5,"y":92.5,"e":3},{"t":16.5,"y":90.8,"e":3},{"t":17.5,"y":92.2,"e":3},{"t":18.5,"y":91,"e":3},{"t":19.5,"y":93.5,"e":3},{"t":20.5,"y":92,"e":3},{"t":21.5,"y":91.2,"e":3},{"t":22.5,"y":92.8,"e":3},{"t":23.5,"y":92,"e":3},{"t":24.5,"y":91.5,"e":3},{"t":25.5,"y":92.5,"e":3},{"t":26.5,"y":90.8,"e":3},{"t":27.5,"y":91.5,"e":3},{"t":28.5,"y":93,"e":3},{"t":29.5,"y":92,"e":3},{"t":30.5,"y":91.2,"e":3},{"t":31.5,"y":96.5,"e":5},{"t":32.5,"y":100.2,"e":6},{"t":33.5,"y":101.5,"e":6},{"t":34.5,"y":100.5,"e":6},{"t":35.5,"y":102.2,"e":6},{"t":36.5,"y":101.5,"e":6},{"t":37.5,"y":103.2,"e":6},{"t":38.5,"y":102,"e":6},{"t":39.5,"y":103.8,"e":6},{"t":40.5,"y":102.8,"e":6},{"t":41.5,"y":104.5,"e":6},{"t":42.5,"y":103.5,"e":6},{"t":43.5,"y":105.2,"e":6},{"t":44.5,"y":104,"e":6},{"t":45.5,"y":105.8,"e":6},{"t":46.5,"y":104.8,"e":6},{"t":47.5,"y":106.2,"e":6},{"t":48.5,"y":105.5,"e":6},{"t":49.5,"y":107,"e":6},{"t":50.5,"y":106,"e":6},{"t":51.5,"y":107.5,"e":6},{"t":52.5,"y":108.2,"e":6},{"t":53.5,"y":107.2,"e":6},{"t":54.5,"y":109,"e":6},{"t":55.5,"y":108.5,"e":6},{"t":56.5,"y":111.5,"e":6},{"t":57.5,"y":113.5,"e":5,"f":1},{"t":58.5,"y":109.5,"e":5},{"t":59.5,"y":105.8,"e":4}],
"D4":[{"t":-9.6,"y":95.4,"e":5},{"t":-8.5,"y":99.3,"e":4},{"t":-7.6,"y":99.5,"e":4},{"t":-6.5,"y":94.6,"e":3},{"t":-5.5,"y":93.6,"e":3},{"t":-4.5,"y":94.6,"e":3},{"t":-3.6,"y":97.8,"e":2},{"t":-2.5,"y":99.6,"e":2},{"t":-1.6,"y":98.8,"e":2},{"t":-0.6,"y":100,"e":2},{"t":0.5,"y":95.4,"e":3},{"t":1.5,"y":83.6,"e":5,"f":1},{"t":2.4,"y":77.2,"e":5,"f":1},{"t":3.4,"y":79.4,"e":6,"f":1},{"t":4.5,"y":79.4,"e":6,"f":1},{"t":5.4,"y":79.8,"e":6,"f":1},{"t":6.4,"y":80.6,"e":6,"f":1},{"t":7.4,"y":79.6,"e":6,"f":1},{"t":8.3,"y":80.4,"e":6,"f":1},{"t":9.4,"y":79.4,"e":6,"f":1},{"t":10.4,"y":80.1,"e":6,"f":1},{"t":11.3,"y":81.1,"e":6,"f":1},{"t":12.4,"y":81.9,"e":6,"f":1},{"t":13.4,"y":81.8,"e":6,"f":1},{"t":14.4,"y":83.1,"e":6,"f":1},{"t":15.3,"y":84.1,"e":6,"f":1},{"t":16.4,"y":84.1,"e":6,"f":1},{"t":17.4,"y":82.9,"e":5,"f":1},{"t":18.3,"y":83.6,"e":5,"f":1},{"t":19.4,"y":83.8,"e":5,"f":1},{"t":20.4,"y":83.8,"e":5,"f":1},{"t":21.3,"y":83.8,"e":5,"f":1},{"t":22.3,"y":83.8,"e":5,"f":1},{"t":23.4,"y":83.6,"e":5,"f":1},{"t":24.3,"y":84.8,"e":5,"f":1},{"t":25.3,"y":86.5,"e":5,"f":1},{"t":26.3,"y":86.7,"e":5,"f":1},{"t":27.3,"y":87.5,"e":5,"f":1},{"t":28.3,"y":86.3,"e":4,"f":1},{"t":29.3,"y":85.3,"e":4,"f":1},{"t":30.2,"y":85.1,"e":4,"f":1},{"t":31.3,"y":85.5,"e":4,"f":1},{"t":32.3,"y":86.5,"e":4,"f":1},{"t":33.2,"y":87.5,"e":4,"f":1},{"t":34.2,"y":87.8,"e":4,"f":1},{"t":35.3,"y":89.7,"e":4},{"t":36.2,"y":89.5,"e":4},{"t":37.2,"y":90.7,"e":4},{"t":38.3,"y":92.9,"e":4},{"t":39.3,"y":89.7,"e":4},{"t":40.2,"y":93.1,"e":4},{"t":41.2,"y":94.6,"e":4},{"t":42.3,"y":96.9,"e":4},{"t":43.3,"y":97.3,"e":4},{"t":44.2,"y":94.4,"e":4},{"t":45.2,"y":91.6,"e":4},{"t":46.3,"y":92.6,"e":4},{"t":47.2,"y":91.9,"e":4},{"t":48.2,"y":92.2,"e":4},{"t":49.3,"y":93.4,"e":4},{"t":50.3,"y":94.6,"e":4},{"t":51.2,"y":93.9,"e":4},{"t":52.2,"y":94.6,"e":4},{"t":53.2,"y":97.3,"e":4},{"t":54.3,"y":99.1,"e":4},{"t":55.2,"y":97.3,"e":4},{"t":56.2,"y":98.5,"e":4},{"t":57.2,"y":99.3,"e":4},{"t":58.2,"y":99.1,"e":4},{"t":59.8,"y":95.4,"e":3.5}],
"A5":[{"g":"-120","v":-185,"e":-260},{"g":"30","v":-70,"e":-118},{"g":"150","v":-105,"e":-165}],
"B5":[{"g":"-120","v":-310,"e":-450},{"g":"30","v":8,"e":22},{"g":"150","v":130,"e":228}],
"C5":[{"g":"-120","v":-630,"e":-890},{"g":"30","v":480,"e":615},{"g":"150","v":185,"e":335}],
"D5":[{"g":"-120","v":-2900,"e":-3880},{"g":"30","v":-1050,"e":-2250},{"g":"150","v":-4020,"e":-5060}]
},
"columns":9,
"bounds":"flush",
"align":"each",
"spacing":{"row":92,"column":0},
"concat":[
{"width":201,"height":202,
"encoding":{"x":{"type":"quantitative","scale":{"domain":[-10,60],"nice":false},"axis":{"values":[-10,0,10,20,30,40,50,60],"labels":false,"title":null}},"y":{"type":"quantitative","scale":{"domain":[70,130],"nice":false},"axis":{"values":[70,80,90,100,110,120,130],"title":"Oxygen Change (%)","titlePadding":8}}},
"layer":[
{"data":{"values":[{}]},"mark":{"type":"rule","strokeDash":[2,3],"color":"black","strokeWidth":1.2},"encoding":{"x":{"datum":0},"x2":{"datum":60},"y":{"datum":100}}},
{"data":{"values":[{}]},"mark":{"type":"rule","strokeDash":[2,3],"color":"black","strokeWidth":1.2},"encoding":{"x":{"datum":0},"y":{"datum":70},"y2":{"datum":123}}},
{"data":{"name":"A1"},"mark":{"type":"errorbar","color":"#333","thickness":1.3},"encoding":{"x":{"field":"t"},"y":{"field":"y"},"yError":{"field":"e"}}},
{"data":{"name":"A1"},"mark":{"type":"line","color":"black","strokeWidth":1},"encoding":{"x":{"field":"t"},"y":{"field":"y"}}},
{"data":{"name":"A1"},"mark":{"type":"point","shape":"circle","filled":true,"size":55,"stroke":"black","strokeWidth":1,"opacity":1},"encoding":{"x":{"field":"t"},"y":{"field":"y"},"fill":{"condition":{"test":"datum.f==1","value":"#FF8000"},"value":"white"}}},
{"data":{"values":[{}]},"mark":{"type":"rule","color":"black","strokeWidth":2.5},"encoding":{"x":{"datum":0},"y":{"datum":130.3},"y2":{"datum":125.5}}},
{"data":{"values":[{}]},"mark":{"type":"point","shape":"triangle-down","filled":true,"color":"black","size":90,"opacity":1},"encoding":{"x":{"datum":0},"y":{"datum":124.2}}},
{"data":{"values":[{}]},"mark":{"type":"text","text":"Heroin","fontSize":13,"fontWeight":"bold"},"encoding":{"x":{"datum":0},"y":{"datum":133}}},
{"data":{"values":[{}]},"mark":{"type":"text","text":"(-120 min)","fontSize":15,"fontWeight":"bold"},"encoding":{"x":{"datum":25},"y":{"datum":133}}},
{"data":{"values":[{}]},"mark":{"type":"text","text":"n=8","fontSize":11,"align":"right"},"encoding":{"x":{"datum":-1.5},"y":{"datum":127}}},
{"data":{"values":[{}]},"mark":{"type":"text","text":"A. Saline (NAc)","fontSize":29,"fontWeight":"bold","align":"left"},"encoding":{"x":{"datum":-24.6},"y":{"datum":144.6}}}
]},
{"width":67,"height":10,"data":{"values":[]},"mark":"point","encoding":{}},
{"width":118,"height":202,
"encoding":{"x":{"type":"quantitative","scale":{"domain":[-10,30],"nice":false},"axis":{"values":[-10,0,10,20,30],"labels":false,"title":null}},"y":{"type":"quantitative","scale":{"domain":[70,130],"nice":false},"axis":{"values":[70,80,90,100,110,120,130],"labels":false,"title":null}}},
"layer":[
{"data":{"values":[{}]},"mark":{"type":"rule","strokeDash":[2,3],"color":"black","strokeWidth":1.2},"encoding":{"x":{"datum":0},"x2":{"datum":30},"y":{"datum":100}}},
{"data":{"values":[{}]},"mark":{"type":"rule","strokeDash":[2,3],"color":"black","strokeWidth":1.2},"encoding":{"x":{"datum":0},"y":{"datum":70},"y2":{"datum":123}}},
{"data":{"name":"A2"},"mark":{"type":"errorbar","color":"#333","thickness":1.3},"encoding":{"x":{"field":"t"},"y":{"field":"y"},"yError":{"field":"e"}}},
{"data":{"name":"A2"},"mark":{"type":"line","color":"black","strokeWidth":1},"encoding":{"x":{"field":"t"},"y":{"field":"y"}}},
{"data":{"name":"A2"},"mark":{"type":"point","shape":"circle","filled":true,"size":55,"stroke":"black","strokeWidth":1,"opacity":1},"encoding":{"x":{"field":"t"},"y":{"field":"y"},"fill":{"condition":{"test":"datum.f==1","value":"#FF8000"},"value":"white"}}},
{"data":{"values":[{}]},"mark":{"type":"rule","color":"#FF8000","strokeWidth":2.5},"encoding":{"x":{"datum":0},"y":{"datum":130.3},"y2":{"datum":125.5}}},
{"data":{"values":[{}]},"mark":{"type":"point","shape":"triangle-down","filled":true,"color":"#FF8000","size":90,"opacity":1},"encoding":{"x":{"datum":0},"y":{"datum":124.2}}},
{"data":{"values":[{}]},"mark":{"type":"text","text":"Saline","fontSize":15,"fontWeight":"bold"},"encoding":{"x":{"datum":10},"y":{"datum":134.2}}}
]},
{"width":68,"height":10,"data":{"values":[]},"mark":"point","encoding":{}},
{"width":201,"height":202,
"encoding":{"x":{"type":"quantitative","scale":{"domain":[-10,60],"nice":false},"axis":{"values":[-10,0,10,20,30,40,50,60],"labels":false,"title":null}},"y":{"type":"quantitative","scale":{"domain":[70,130],"nice":false},"axis":{"values":[70,80,90,100,110,120,130],"labels":false,"title":null}}},
"layer":[
{"data":{"values":[{}]},"mark":{"type":"rule","strokeDash":[2,3],"color":"black","strokeWidth":1.2},"encoding":{"x":{"datum":0},"x2":{"datum":60},"y":{"datum":100}}},
{"data":{"values":[{}]},"mark":{"type":"rule","strokeDash":[2,3],"color":"black","strokeWidth":1.2},"encoding":{"x":{"datum":0},"y":{"datum":70},"y2":{"datum":123}}},
{"data":{"name":"A3"},"mark":{"type":"errorbar","color":"#333","thickness":1.3},"encoding":{"x":{"field":"t"},"y":{"field":"y"},"yError":{"field":"e"}}},
{"data":{"name":"A3"},"mark":{"type":"line","color":"black","strokeWidth":1},"encoding":{"x":{"field":"t"},"y":{"field":"y"}}},
{"data":{"name":"A3"},"mark":{"type":"point","shape":"circle","filled":true,"size":55,"stroke":"black","strokeWidth":1,"opacity":1},"encoding":{"x":{"field":"t"},"y":{"field":"y"},"fill":{"condition":{"test":"datum.f==1","value":"#FF8000"},"value":"white"}}},
{"data":{"values":[{}]},"mark":{"type":"rule","color":"black","strokeWidth":2.5},"encoding":{"x":{"datum":0},"y":{"datum":130.3},"y2":{"datum":125.5}}},
{"data":{"values":[{}]},"mark":{"type":"point","shape":"triangle-down","filled":true,"color":"black","size":90,"opacity":1},"encoding":{"x":{"datum":0},"y":{"datum":124.2}}},
{"data":{"values":[{}]},"mark":{"type":"text","text":"Heroin","fontSize":13,"fontWeight":"bold"},"encoding":{"x":{"datum":0},"y":{"datum":133}}},
{"data":{"values":[{}]},"mark":{"type":"text","text":"(30 min)","fontSize":15,"fontWeight":"bold"},"encoding":{"x":{"datum":24.7},"y":{"datum":133}}}
]},
{"width":70,"height":10,"data":{"values":[]},"mark":"point","encoding":{}},
{"width":200,"height":202,
"encoding":{"x":{"type":"quantitative","scale":{"domain":[-10,60],"nice":false},"axis":{"values":[-10,0,10,20,30,40,50,60],"labels":false,"title":null}},"y":{"type":"quantitative","scale":{"domain":[70,130],"nice":false},"axis":{"values":[70,80,90,100,110,120,130],"labels":false,"title":null}}},
"layer":[
{"data":{"values":[{}]},"mark":{"type":"rule","strokeDash":[2,3],"color":"black","strokeWidth":1.2},"encoding":{"x":{"datum":-10},"x2":{"datum":60},"y":{"datum":100}}},
{"data":{"values":[{}]},"mark":{"type":"rule","strokeDash":[2,3],"color":"black","strokeWidth":1.2},"encoding":{"x":{"datum":0},"y":{"datum":70},"y2":{"datum":123}}},
{"data":{"name":"A4"},"mark":{"type":"errorbar","color":"#333","thickness":1.3},"encoding":{"x":{"field":"t"},"y":{"field":"y"},"yError":{"field":"e"}}},
{"data":{"name":"A4"},"mark":{"type":"line","color":"black","strokeWidth":1},"encoding":{"x":{"field":"t"},"y":{"field":"y"}}},
{"data":{"name":"A4"},"mark":{"type":"point","shape":"circle","filled":true,"size":55,"stroke":"black","strokeWidth":1,"opacity":1},"encoding":{"x":{"field":"t"},"y":{"field":"y"},"fill":{"condition":{"test":"datum.f==1","value":"#FF8000"},"value":"white"}}},
{"data":{"values":[{}]},"mark":{"type":"rule","color":"black","strokeWidth":2.5},"encoding":{"x":{"datum":0},"y":{"datum":130.3},"y2":{"datum":125.5}}},
{"data":{"values":[{}]},"mark":{"type":"point","shape":"triangle-down","filled":true,"color":"black","size":90,"opacity":1},"encoding":{"x":{"datum":0},"y":{"datum":124.2}}},
{"data":{"values":[{}]},"mark":{"type":"text","text":"Heroin","fontSize":13,"fontWeight":"bold"},"encoding":{"x":{"datum":0},"y":{"datum":133}}},
{"data":{"values":[{}]},"mark":{"type":"text","text":"(150 min)","fontSize":15,"fontWeight":"bold"},"encoding":{"x":{"datum":24.4},"y":{"datum":133}}}
]},
{"width":95,"height":10,"data":{"values":[]},"mark":"point","encoding":{}},
{"width":136,"height":202,"layer":[
{"data":{"values":[{}]},"mark":{"type":"rule","color":"#888","strokeWidth":1.5},"encoding":{"y":{"datum":0,"type":"quantitative"}}},
{"data":{"name":"A5"},"mark":{"type":"bar","fill":"#FF8000","stroke":"black","strokeWidth":1},"encoding":{"x":{"field":"g","type":"nominal","sort":["-120","30","150"],"scale":{"paddingInner":0.34,"paddingOuter":0.165},"axis":{"title":"Time (min)","labelAngle":0,"ticks":false,"labelPadding":8,"titlePadding":8}},"y":{"field":"v","type":"quantitative","scale":{"domain":[-300,100],"nice":false},"axis":{"title":"AUC","values":[-300,-250,-200,-150,-100,-50,0,50,100],"labelExpr":"datum.value % 100 == 0 ? datum.label : ''","tickSize":{"condition":{"test":"datum.value % 100 != 0","value":3},"value":6}}}}},
{"data":{"name":"A5"},"mark":{"type":"rule","color":"black","strokeWidth":1.5},"encoding":{"x":{"field":"g","type":"nominal","sort":["-120","30","150"]},"y":{"field":"v","type":"quantitative"},"y2":{"field":"e"}}},
{"data":{"name":"A5"},"mark":{"type":"tick","color":"black","thickness":1.5,"size":14},"encoding":{"x":{"field":"g","type":"nominal","sort":["-120","30","150"]},"y":{"field":"e","type":"quantitative"}}},
{"data":{"values":[{}]},"mark":{"type":"text","text":"Saline","fontSize":15,"fontWeight":"bold"},"encoding":{"x":{"datum":"30","type":"nominal"},"y":{"datum":120,"type":"quantitative"}}}
]},
{"width":201,"height":202,
"encoding":{"x":{"type":"quantitative","scale":{"domain":[-10,60],"nice":false},"axis":{"values":[-10,0,10,20,30,40,50,60],"labels":false,"title":null}},"y":{"type":"quantitative","scale":{"domain":[70,130],"nice":false},"axis":{"values":[70,80,90,100,110,120,130],"title":"Oxygen Change (%)","titlePadding":8}}},
"layer":[
{"data":{"values":[{}]},"mark":{"type":"rule","strokeDash":[2,3],"color":"black","strokeWidth":1.2},"encoding":{"x":{"datum":0},"x2":{"datum":60},"y":{"datum":100}}},
{"data":{"values":[{}]},"mark":{"type":"rule","strokeDash":[2,3],"color":"black","strokeWidth":1.2},"encoding":{"x":{"datum":0},"y":{"datum":70},"y2":{"datum":123}}},
{"data":{"name":"B1"},"mark":{"type":"errorbar","color":"#333","thickness":1.3},"encoding":{"x":{"field":"t"},"y":{"field":"y"},"yError":{"field":"e"}}},
{"data":{"name":"B1"},"mark":{"type":"line","color":"black","strokeWidth":1},"encoding":{"x":{"field":"t"},"y":{"field":"y"}}},
{"data":{"name":"B1"},"mark":{"type":"point","shape":"circle","filled":true,"size":55,"stroke":"black","strokeWidth":1,"opacity":1},"encoding":{"x":{"field":"t"},"y":{"field":"y"},"fill":{"condition":{"test":"datum.f==1","value":"#0000FF"},"value":"white"}}},
{"data":{"values":[{}]},"mark":{"type":"rule","color":"black","strokeWidth":2.5},"encoding":{"x":{"datum":0},"y":{"datum":130.3},"y2":{"datum":125.5}}},
{"data":{"values":[{}]},"mark":{"type":"point","shape":"triangle-down","filled":true,"color":"black","size":90,"opacity":1},"encoding":{"x":{"datum":0},"y":{"datum":124.2}}},
{"data":{"values":[{}]},"mark":{"type":"text","text":"Heroin","fontSize":13,"fontWeight":"bold"},"encoding":{"x":{"datum":0},"y":{"datum":133.3}}},
{"data":{"values":[{}]},"mark":{"type":"text","text":"(-120 min)","fontSize":15,"fontWeight":"bold"},"encoding":{"x":{"datum":24.2},"y":{"datum":132.1}}},
{"data":{"values":[{}]},"mark":{"type":"text","text":"n=6","fontSize":11,"align":"right"},"encoding":{"x":{"datum":-1.5},"y":{"datum":127.6}}},
{"data":{"values":[{}]},"mark":{"type":"text","text":"B. Naloxone-HCl\u00a0 (NAc)","fontSize":29,"fontWeight":"bold","align":"left"},"encoding":{"x":{"datum":-24.6},"y":{"datum":144.9}}}
]},
{"width":67,"height":10,"data":{"values":[]},"mark":"point","encoding":{}},
{"width":118,"height":202,
"encoding":{"x":{"type":"quantitative","scale":{"domain":[-10,30],"nice":false},"axis":{"values":[-10,0,10,20,30],"labels":false,"title":null}},"y":{"type":"quantitative","scale":{"domain":[70,130],"nice":false},"axis":{"values":[70,80,90,100,110,120,130],"labels":false,"title":null}}},
"layer":[
{"data":{"values":[{}]},"mark":{"type":"rule","strokeDash":[2,3],"color":"black","strokeWidth":1.2},"encoding":{"x":{"datum":0},"x2":{"datum":30},"y":{"datum":100}}},
{"data":{"values":[{}]},"mark":{"type":"rule","strokeDash":[2,3],"color":"black","strokeWidth":1.2},"encoding":{"x":{"datum":0},"y":{"datum":70},"y2":{"datum":123}}},
{"data":{"name":"B2"},"mark":{"type":"errorbar","color":"#333","thickness":1.3},"encoding":{"x":{"field":"t"},"y":{"field":"y"},"yError":{"field":"e"}}},
{"data":{"name":"B2"},"mark":{"type":"line","color":"black","strokeWidth":1},"encoding":{"x":{"field":"t"},"y":{"field":"y"}}},
{"data":{"name":"B2"},"mark":{"type":"point","shape":"circle","filled":true,"size":55,"stroke":"black","strokeWidth":1,"opacity":1},"encoding":{"x":{"field":"t"},"y":{"field":"y"},"fill":{"condition":{"test":"datum.f==1","value":"#0000FF"},"value":"white"}}},
{"data":{"values":[{}]},"mark":{"type":"rule","color":"#0000FF","strokeWidth":2.5},"encoding":{"x":{"datum":0},"y":{"datum":130.3},"y2":{"datum":125.5}}},
{"data":{"values":[{}]},"mark":{"type":"point","shape":"triangle-down","filled":true,"color":"#0000FF","size":90,"opacity":1},"encoding":{"x":{"datum":0},"y":{"datum":124.2}}},
{"data":{"values":[{}]},"mark":{"type":"text","text":"Naloxone-HCl","fontSize":15,"fontWeight":"bold"},"encoding":{"x":{"datum":9.8},"y":{"datum":133.6}}}
]},
{"width":68,"height":10,"data":{"values":[]},"mark":"point","encoding":{}},
{"width":201,"height":202,
"encoding":{"x":{"type":"quantitative","scale":{"domain":[-10,60],"nice":false},"axis":{"values":[-10,0,10,20,30,40,50,60],"labels":false,"title":null}},"y":{"type":"quantitative","scale":{"domain":[70,130],"nice":false},"axis":{"values":[70,80,90,100,110,120,130],"labels":false,"title":null}}},
"layer":[
{"data":{"values":[{}]},"mark":{"type":"rule","strokeDash":[2,3],"color":"black","strokeWidth":1.2},"encoding":{"x":{"datum":0},"x2":{"datum":60},"y":{"datum":100}}},
{"data":{"values":[{}]},"mark":{"type":"rule","strokeDash":[2,3],"color":"black","strokeWidth":1.2},"encoding":{"x":{"datum":0},"y":{"datum":70},"y2":{"datum":123}}},
{"data":{"name":"B3"},"mark":{"type":"errorbar","color":"#333","thickness":1.3},"encoding":{"x":{"field":"t"},"y":{"field":"y"},"yError":{"field":"e"}}},
{"data":{"name":"B3"},"mark":{"type":"line","color":"black","strokeWidth":1},"encoding":{"x":{"field":"t"},"y":{"field":"y"}}},
{"data":{"name":"B3"},"mark":{"type":"point","shape":"circle","filled":true,"size":55,"stroke":"black","strokeWidth":1,"opacity":1},"encoding":{"x":{"field":"t"},"y":{"field":"y"},"fill":{"condition":{"test":"datum.f==1","value":"#0000FF"},"value":"white"}}},
{"data":{"values":[{}]},"mark":{"type":"rule","color":"black","strokeWidth":2.5},"encoding":{"x":{"datum":0},"y":{"datum":130.3},"y2":{"datum":125.5}}},
{"data":{"values":[{}]},"mark":{"type":"point","shape":"triangle-down","filled":true,"color":"black","size":90,"opacity":1},"encoding":{"x":{"datum":0},"y":{"datum":124.2}}},
{"data":{"values":[{}]},"mark":{"type":"text","text":"Heroin","fontSize":13,"fontWeight":"bold"},"encoding":{"x":{"datum":0},"y":{"datum":133.3}}},
{"data":{"values":[{}]},"mark":{"type":"text","text":"(30 min)","fontSize":15,"fontWeight":"bold"},"encoding":{"x":{"datum":24.7},"y":{"datum":133}}}
]},
{"width":70,"height":10,"data":{"values":[]},"mark":"point","encoding":{}},
{"width":200,"height":202,
"encoding":{"x":{"type":"quantitative","scale":{"domain":[-10,60],"nice":false},"axis":{"values":[-10,0,10,20,30,40,50,60],"labels":false,"title":null}},"y":{"type":"quantitative","scale":{"domain":[70,130],"nice":false},"axis":{"values":[70,80,90,100,110,120,130],"labels":false,"title":null}}},
"layer":[
{"data":{"values":[{}]},"mark":{"type":"rule","strokeDash":[2,3],"color":"black","strokeWidth":1.2},"encoding":{"x":{"datum":0},"x2":{"datum":60},"y":{"datum":100}}},
{"data":{"values":[{}]},"mark":{"type":"rule","strokeDash":[2,3],"color":"black","strokeWidth":1.2},"encoding":{"x":{"datum":0},"y":{"datum":70},"y2":{"datum":123}}},
{"data":{"name":"B4"},"mark":{"type":"errorbar","color":"#333","thickness":1.3},"encoding":{"x":{"field":"t"},"y":{"field":"y"},"yError":{"field":"e"}}},
{"data":{"name":"B4"},"mark":{"type":"line","color":"black","strokeWidth":1},"encoding":{"x":{"field":"t"},"y":{"field":"y"}}},
{"data":{"name":"B4"},"mark":{"type":"point","shape":"circle","filled":true,"size":55,"stroke":"black","strokeWidth":1,"opacity":1},"encoding":{"x":{"field":"t"},"y":{"field":"y"},"fill":{"condition":{"test":"datum.f==1","value":"#0000FF"},"value":"white"}}},
{"data":{"values":[{}]},"mark":{"type":"rule","color":"black","strokeWidth":2.5},"encoding":{"x":{"datum":0},"y":{"datum":130.3},"y2":{"datum":125.5}}},
{"data":{"values":[{}]},"mark":{"type":"point","shape":"triangle-down","filled":true,"color":"black","size":90,"opacity":1},"encoding":{"x":{"datum":0},"y":{"datum":124.2}}},
{"data":{"values":[{}]},"mark":{"type":"text","text":"Heroin","fontSize":13,"fontWeight":"bold"},"encoding":{"x":{"datum":0},"y":{"datum":133.3}}},
{"data":{"values":[{}]},"mark":{"type":"text","text":"(150 min)","fontSize":15,"fontWeight":"bold"},"encoding":{"x":{"datum":26},"y":{"datum":132.4}}}
]},
{"width":95,"height":10,"data":{"values":[]},"mark":"point","encoding":{}},
{"width":136,"height":202,"layer":[
{"data":{"values":[{}]},"mark":{"type":"rule","color":"#888","strokeWidth":1.5},"encoding":{"y":{"datum":0,"type":"quantitative"}}},
{"data":{"name":"B5"},"mark":{"type":"bar","fill":"#0000FF","stroke":"black","strokeWidth":1},"encoding":{"x":{"field":"g","type":"nominal","sort":["-120","30","150"],"scale":{"paddingInner":0.34,"paddingOuter":0.165},"axis":{"title":"Time (min)","labelAngle":0,"ticks":false,"labelPadding":8,"titlePadding":8}},"y":{"field":"v","type":"quantitative","scale":{"domain":[-600,400],"nice":false},"axis":{"title":"AUC","values":[-600,-500,-400,-300,-200,-100,0,100,200,300,400],"labelExpr":"datum.value % 200 == 0 ? datum.label : ''","tickSize":{"condition":{"test":"datum.value % 200 != 0","value":3},"value":6}}}}},
{"data":{"name":"B5"},"mark":{"type":"rule","color":"black","strokeWidth":1.5},"encoding":{"x":{"field":"g","type":"nominal","sort":["-120","30","150"]},"y":{"field":"v","type":"quantitative"},"y2":{"field":"e"}}},
{"data":{"name":"B5"},"mark":{"type":"tick","color":"black","thickness":1.5,"size":14},"encoding":{"x":{"field":"g","type":"nominal","sort":["-120","30","150"]},"y":{"field":"e","type":"quantitative"}}},
{"data":{"values":[{}]},"mark":{"type":"text","text":"Naloxone-HCl","fontSize":15,"fontWeight":"bold"},"encoding":{"x":{"datum":"30","type":"nominal"},"y":{"datum":415,"type":"quantitative"}}},
{"data":{"values":[{}]},"mark":{"type":"text","text":"*","fontSize":20,"baseline":"alphabetic"},"encoding":{"x":{"datum":"30","type":"nominal"},"y":{"datum":25,"type":"quantitative"}}},
{"data":{"values":[{}]},"mark":{"type":"text","text":"*","fontSize":20,"baseline":"alphabetic"},"encoding":{"x":{"datum":"150","type":"nominal"},"y":{"datum":235,"type":"quantitative"}}}
]},
{"width":201,"height":202,
"encoding":{"x":{"type":"quantitative","scale":{"domain":[-10,60],"nice":false},"axis":{"values":[-10,0,10,20,30,40,50,60],"labels":false,"title":null}},"y":{"type":"quantitative","scale":{"domain":[70,130],"nice":false},"axis":{"values":[70,80,90,100,110,120,130],"title":"Oxygen Change (%)","titlePadding":8}}},
"layer":[
{"data":{"values":[{}]},"mark":{"type":"rule","strokeDash":[2,3],"color":"black","strokeWidth":1.2},"encoding":{"x":{"datum":0},"x2":{"datum":60},"y":{"datum":100}}},
{"data":{"values":[{}]},"mark":{"type":"rule","strokeDash":[2,3],"color":"black","strokeWidth":1.2},"encoding":{"x":{"datum":0},"y":{"datum":70},"y2":{"datum":123}}},
{"data":{"name":"C1"},"mark":{"type":"errorbar","color":"#333","thickness":1.3},"encoding":{"x":{"field":"t"},"y":{"field":"y"},"yError":{"field":"e"}}},
{"data":{"name":"C1"},"mark":{"type":"line","color":"black","strokeWidth":1},"encoding":{"x":{"field":"t"},"y":{"field":"y"}}},
{"data":{"name":"C1"},"mark":{"type":"point","shape":"circle","filled":true,"size":55,"stroke":"black","strokeWidth":1,"opacity":1},"encoding":{"x":{"field":"t"},"y":{"field":"y"},"fill":{"condition":{"test":"datum.f==1","value":"#FF0000"},"value":"white"}}},
{"data":{"values":[{}]},"mark":{"type":"rule","color":"black","strokeWidth":2.5},"encoding":{"x":{"datum":0},"y":{"datum":130.3},"y2":{"datum":125.5}}},
{"data":{"values":[{}]},"mark":{"type":"point","shape":"triangle-down","filled":true,"color":"black","size":90,"opacity":1},"encoding":{"x":{"datum":0},"y":{"datum":124.2}}},
{"data":{"values":[{}]},"mark":{"type":"text","text":"Heroin","fontSize":13,"fontWeight":"bold"},"encoding":{"x":{"datum":0},"y":{"datum":132.7}}},
{"data":{"values":[{}]},"mark":{"type":"text","text":"(-120 min)","fontSize":15,"fontWeight":"bold"},"encoding":{"x":{"datum":24.5},"y":{"datum":132.1}}},
{"data":{"values":[{}]},"mark":{"type":"text","text":"n=6","fontSize":11,"align":"right"},"encoding":{"x":{"datum":-1.5},"y":{"datum":127.6}}},
{"data":{"values":[{}]},"mark":{"type":"text","text":"C. Naloxone-MET (NAc)","fontSize":29,"fontWeight":"bold","align":"left"},"encoding":{"x":{"datum":-24.6},"y":{"datum":145.1}}}
]},
{"width":67,"height":229,"data":{"values":[]},"mark":"point","encoding":{}},
{"width":118,"height":202,
"encoding":{"x":{"type":"quantitative","scale":{"domain":[-10,30],"nice":false},"axis":{"values":[-10,0,10,20,30],"labels":false,"title":null}},"y":{"type":"quantitative","scale":{"domain":[70,130],"nice":false},"axis":{"values":[70,80,90,100,110,120,130],"labels":false,"title":null}}},
"layer":[
{"data":{"values":[{}]},"mark":{"type":"rule","strokeDash":[2,3],"color":"black","strokeWidth":1.2},"encoding":{"x":{"datum":0},"x2":{"datum":30},"y":{"datum":100}}},
{"data":{"values":[{}]},"mark":{"type":"rule","strokeDash":[2,3],"color":"black","strokeWidth":1.2},"encoding":{"x":{"datum":0},"y":{"datum":70},"y2":{"datum":123}}},
{"data":{"name":"C2"},"mark":{"type":"errorbar","color":"#333","thickness":1.3},"encoding":{"x":{"field":"t"},"y":{"field":"y"},"yError":{"field":"e"}}},
{"data":{"name":"C2"},"mark":{"type":"line","color":"black","strokeWidth":1},"encoding":{"x":{"field":"t"},"y":{"field":"y"}}},
{"data":{"name":"C2"},"mark":{"type":"point","shape":"circle","filled":true,"size":55,"stroke":"black","strokeWidth":1,"opacity":1},"encoding":{"x":{"field":"t"},"y":{"field":"y"},"fill":{"condition":{"test":"datum.f==1","value":"#FF0000"},"value":"white"}}},
{"data":{"values":[{}]},"mark":{"type":"rule","color":"#FF0000","strokeWidth":2.5},"encoding":{"x":{"datum":0},"y":{"datum":130.3},"y2":{"datum":125.5}}},
{"data":{"values":[{}]},"mark":{"type":"point","shape":"triangle-down","filled":true,"color":"#FF0000","size":90,"opacity":1},"encoding":{"x":{"datum":0},"y":{"datum":124.2}}},
{"data":{"values":[{}]},"mark":{"type":"text","text":"Naloxone-MET","fontSize":15,"fontWeight":"bold"},"encoding":{"x":{"datum":10.2},"y":{"datum":134.2}}}
]},
{"width":68,"height":10,"data":{"values":[]},"mark":"point","encoding":{}},
{"width":201,"height":202,
"encoding":{"x":{"type":"quantitative","scale":{"domain":[-10,60],"nice":false},"axis":{"values":[-10,0,10,20,30,40,50,60],"labels":false,"title":null}},"y":{"type":"quantitative","scale":{"domain":[70,130],"nice":false},"axis":{"values":[70,80,90,100,110,120,130],"labels":false,"title":null}}},
"layer":[
{"data":{"values":[{}]},"mark":{"type":"rule","strokeDash":[2,3],"color":"black","strokeWidth":1.2},"encoding":{"x":{"datum":0},"x2":{"datum":60},"y":{"datum":100}}},
{"data":{"values":[{}]},"mark":{"type":"rule","strokeDash":[2,3],"color":"black","strokeWidth":1.2},"encoding":{"x":{"datum":0},"y":{"datum":70},"y2":{"datum":123}}},
{"data":{"name":"C3"},"mark":{"type":"errorbar","color":"#333","thickness":1.3},"encoding":{"x":{"field":"t"},"y":{"field":"y"},"yError":{"field":"e"}}},
{"data":{"name":"C3"},"mark":{"type":"line","color":"black","strokeWidth":1},"encoding":{"x":{"field":"t"},"y":{"field":"y"}}},
{"data":{"name":"C3"},"mark":{"type":"point","shape":"circle","filled":true,"size":55,"stroke":"black","strokeWidth":1,"opacity":1},"encoding":{"x":{"field":"t"},"y":{"field":"y"},"fill":{"condition":{"test":"datum.f==1","value":"#FF0000"},"value":"white"}}},
{"data":{"values":[{}]},"mark":{"type":"rule","color":"black","strokeWidth":2.5},"encoding":{"x":{"datum":0},"y":{"datum":130.3},"y2":{"datum":125.5}}},
{"data":{"values":[{}]},"mark":{"type":"point","shape":"triangle-down","filled":true,"color":"black","size":90,"opacity":1},"encoding":{"x":{"datum":0},"y":{"datum":124.2}}},
{"data":{"values":[{}]},"mark":{"type":"text","text":"Heroin","fontSize":13,"fontWeight":"bold"},"encoding":{"x":{"datum":0},"y":{"datum":132.7}}},
{"data":{"values":[{}]},"mark":{"type":"text","text":"(30 min)","fontSize":15,"fontWeight":"bold"},"encoding":{"x":{"datum":24.7},"y":{"datum":132.1}}}
]},
{"width":70,"height":10,"data":{"values":[]},"mark":"point","encoding":{}},
{"width":200,"height":202,
"encoding":{"x":{"type":"quantitative","scale":{"domain":[-10,60],"nice":false},"axis":{"values":[-10,0,10,20,30,40,50,60],"labels":false,"title":null}},"y":{"type":"quantitative","scale":{"domain":[70,130],"nice":false},"axis":{"values":[70,80,90,100,110,120,130],"labels":false,"title":null}}},
"layer":[
{"data":{"values":[{}]},"mark":{"type":"rule","strokeDash":[2,3],"color":"black","strokeWidth":1.2},"encoding":{"x":{"datum":0},"x2":{"datum":60},"y":{"datum":100}}},
{"data":{"values":[{}]},"mark":{"type":"rule","strokeDash":[2,3],"color":"black","strokeWidth":1.2},"encoding":{"x":{"datum":0},"y":{"datum":70},"y2":{"datum":123}}},
{"data":{"name":"C4"},"mark":{"type":"errorbar","color":"#333","thickness":1.3},"encoding":{"x":{"field":"t"},"y":{"field":"y"},"yError":{"field":"e"}}},
{"data":{"name":"C4"},"mark":{"type":"line","color":"black","strokeWidth":1},"encoding":{"x":{"field":"t"},"y":{"field":"y"}}},
{"data":{"name":"C4"},"mark":{"type":"point","shape":"circle","filled":true,"size":55,"stroke":"black","strokeWidth":1,"opacity":1},"encoding":{"x":{"field":"t"},"y":{"field":"y"},"fill":{"condition":{"test":"datum.f==1","value":"#FF0000"},"value":"white"}}},
{"data":{"values":[{}]},"mark":{"type":"rule","color":"black","strokeWidth":2.5},"encoding":{"x":{"datum":0},"y":{"datum":130.3},"y2":{"datum":125.5}}},
{"data":{"values":[{}]},"mark":{"type":"point","shape":"triangle-down","filled":true,"color":"black","size":90,"opacity":1},"encoding":{"x":{"datum":0},"y":{"datum":124.2}}},
{"data":{"values":[{}]},"mark":{"type":"text","text":"Heroin","fontSize":13,"fontWeight":"bold"},"encoding":{"x":{"datum":0},"y":{"datum":132.7}}},
{"data":{"values":[{}]},"mark":{"type":"text","text":"(150 min)","fontSize":15,"fontWeight":"bold"},"encoding":{"x":{"datum":24},"y":{"datum":132.1}}}
]},
{"width":95,"height":10,"data":{"values":[]},"mark":"point","encoding":{}},
{"width":136,"height":202,"layer":[
{"data":{"values":[{}]},"mark":{"type":"rule","color":"#888","strokeWidth":1.5},"encoding":{"y":{"datum":0,"type":"quantitative"}}},
{"data":{"name":"C5"},"mark":{"type":"bar","fill":"#FF0000","stroke":"black","strokeWidth":1},"encoding":{"x":{"field":"g","type":"nominal","sort":["-120","30","150"],"scale":{"paddingInner":0.34,"paddingOuter":0.165},"axis":{"title":"Time (min)","labelAngle":0,"ticks":false,"labelPadding":8,"titlePadding":8}},"y":{"field":"v","type":"quantitative","scale":{"domain":[-1000,1000],"nice":false},"axis":{"title":"AUC","values":[-1000,-750,-500,-250,0,250,500,750,1000],"labelExpr":"datum.value % 500 == 0 ? datum.label : ''","tickSize":{"condition":{"test":"datum.value % 500 != 0","value":3},"value":6}}}}},
{"data":{"name":"C5"},"mark":{"type":"rule","color":"black","strokeWidth":1.5},"encoding":{"x":{"field":"g","type":"nominal","sort":["-120","30","150"]},"y":{"field":"v","type":"quantitative"},"y2":{"field":"e"}}},
{"data":{"name":"C5"},"mark":{"type":"tick","color":"black","thickness":1.5,"size":14},"encoding":{"x":{"field":"g","type":"nominal","sort":["-120","30","150"]},"y":{"field":"e","type":"quantitative"}}},
{"data":{"values":[{}]},"mark":{"type":"text","text":"Naloxone-MET","fontSize":15,"fontWeight":"bold"},"encoding":{"x":{"datum":"30","type":"nominal"},"y":{"datum":1089,"type":"quantitative"}}},
{"data":{"values":[{}]},"mark":{"type":"text","text":"**","fontSize":20,"baseline":"alphabetic"},"encoding":{"x":{"datum":"30","type":"nominal"},"y":{"datum":620,"type":"quantitative"}}},
{"data":{"values":[{}]},"mark":{"type":"text","text":"*","fontSize":20,"baseline":"alphabetic"},"encoding":{"x":{"datum":"150","type":"nominal"},"y":{"datum":345,"type":"quantitative"}}}
]},
{"width":201,"height":202,
"encoding":{"x":{"type":"quantitative","scale":{"domain":[-10,60],"nice":false},"axis":{"values":[-10,0,10,20,30,40,50,60],"labelExpr":"datum.value % 20 == 0 ? datum.label : ''","title":"Time (min)","titlePadding":5}},"y":{"type":"quantitative","scale":{"domain":[60,120],"nice":false},"axis":{"values":[60,70,80,90,100,110,120],"title":"Oxygen Change (%)","titlePadding":8}}},
"layer":[
{"data":{"values":[{}]},"mark":{"type":"rule","strokeDash":[2,3],"color":"black","strokeWidth":1.2},"encoding":{"x":{"datum":0},"x2":{"datum":60},"y":{"datum":100}}},
{"data":{"values":[{}]},"mark":{"type":"rule","strokeDash":[2,3],"color":"black","strokeWidth":1.2},"encoding":{"x":{"datum":0},"y":{"datum":60},"y2":{"datum":113.5}}},
{"data":{"name":"D1"},"mark":{"type":"errorbar","color":"#333","thickness":1.3},"encoding":{"x":{"field":"t"},"y":{"field":"y"},"yError":{"field":"e"}}},
{"data":{"name":"D1"},"mark":{"type":"line","color":"black","strokeWidth":1},"encoding":{"x":{"field":"t"},"y":{"field":"y"}}},
{"data":{"name":"D1"},"mark":{"type":"point","shape":"circle","filled":true,"size":55,"stroke":"black","strokeWidth":1,"opacity":1},"encoding":{"x":{"field":"t"},"y":{"field":"y"},"fill":{"condition":{"test":"datum.f==1","value":"#FF0000"},"value":"white"}}},
{"data":{"values":[{}]},"mark":{"type":"rule","color":"black","strokeWidth":2.5},"encoding":{"x":{"datum":0},"y":{"datum":120.3},"y2":{"datum":115.5}}},
{"data":{"values":[{}]},"mark":{"type":"point","shape":"triangle-down","filled":true,"color":"black","size":90,"opacity":1},"encoding":{"x":{"datum":0},"y":{"datum":114.3}}},
{"data":{"values":[{}]},"mark":{"type":"text","text":"Heroin","fontSize":13,"fontWeight":"bold"},"encoding":{"x":{"datum":0},"y":{"datum":124.2}}},
{"data":{"values":[{}]},"mark":{"type":"text","text":"(-120 min)","fontSize":15,"fontWeight":"bold"},"encoding":{"x":{"datum":25.5},"y":{"datum":128}}},
{"data":{"values":[{}]},"mark":{"type":"text","text":"n=4","fontSize":11,"align":"right"},"encoding":{"x":{"datum":-1.5},"y":{"datum":117.6}}},
{"data":{"values":[{}]},"mark":{"type":"text","text":"D. Naloxone-MET (Subcutaneous space)","fontSize":29,"fontWeight":"bold","align":"left"},"encoding":{"x":{"datum":-24.6},"y":{"datum":141.8}}}
]},
{"width":67,"height":10,"data":{"values":[]},"mark":"point","encoding":{}},
{"width":118,"height":202,
"encoding":{"x":{"type":"quantitative","scale":{"domain":[-10,30],"nice":false},"axis":{"values":[-10,0,10,20,30],"labelExpr":"datum.value % 20 == 0 ? datum.label : ''","title":"Time (min)","titlePadding":5}},"y":{"type":"quantitative","scale":{"domain":[60,120],"nice":false},"axis":{"values":[60,70,80,90,100,110,120],"labels":false,"title":null}}},
"layer":[
{"data":{"values":[{}]},"mark":{"type":"rule","strokeDash":[2,3],"color":"black","strokeWidth":1.2},"encoding":{"x":{"datum":0},"x2":{"datum":30},"y":{"datum":100}}},
{"data":{"values":[{}]},"mark":{"type":"rule","strokeDash":[2,3],"color":"black","strokeWidth":1.2},"encoding":{"x":{"datum":0},"y":{"datum":60},"y2":{"datum":113.5}}},
{"data":{"name":"D2"},"mark":{"type":"errorbar","color":"#333","thickness":1.3},"encoding":{"x":{"field":"t"},"y":{"field":"y"},"yError":{"field":"e"}}},
{"data":{"name":"D2"},"mark":{"type":"line","color":"black","strokeWidth":1},"encoding":{"x":{"field":"t"},"y":{"field":"y"}}},
{"data":{"name":"D2"},"mark":{"type":"point","shape":"circle","filled":true,"size":55,"stroke":"black","strokeWidth":1,"opacity":1},"encoding":{"x":{"field":"t"},"y":{"field":"y"},"fill":{"condition":{"test":"datum.f==1","value":"#FF0000"},"value":"white"}}},
{"data":{"values":[{}]},"mark":{"type":"rule","color":"#FF0000","strokeWidth":2.5},"encoding":{"x":{"datum":0},"y":{"datum":120.3},"y2":{"datum":115.5}}},
{"data":{"values":[{}]},"mark":{"type":"point","shape":"triangle-down","filled":true,"color":"#FF0000","size":90,"opacity":1},"encoding":{"x":{"datum":0},"y":{"datum":114.3}}},
{"data":{"values":[{}]},"mark":{"type":"text","text":"Naloxone-MET","fontSize":15,"fontWeight":"bold"},"encoding":{"x":{"datum":9.8},"y":{"datum":127.5}}}
]},
{"width":68,"height":10,"data":{"values":[]},"mark":"point","encoding":{}},
{"width":201,"height":202,
"encoding":{"x":{"type":"quantitative","scale":{"domain":[-10,60],"nice":false},"axis":{"values":[-10,0,10,20,30,40,50,60],"labelExpr":"datum.value % 20 == 0 ? datum.label : ''","title":"Time (min)","titlePadding":5}},"y":{"type":"quantitative","scale":{"domain":[60,120],"nice":false},"axis":{"values":[60,70,80,90,100,110,120],"labels":false,"title":null}}},
"layer":[
{"data":{"values":[{}]},"mark":{"type":"rule","strokeDash":[2,3],"color":"black","strokeWidth":1.2},"encoding":{"x":{"datum":0},"x2":{"datum":60},"y":{"datum":100}}},
{"data":{"values":[{}]},"mark":{"type":"rule","strokeDash":[2,3],"color":"black","strokeWidth":1.2},"encoding":{"x":{"datum":0},"y":{"datum":60},"y2":{"datum":113.5}}},
{"data":{"name":"D3"},"mark":{"type":"errorbar","color":"#333","thickness":1.3},"encoding":{"x":{"field":"t"},"y":{"field":"y"},"yError":{"field":"e"}}},
{"data":{"name":"D3"},"mark":{"type":"line","color":"black","strokeWidth":1},"encoding":{"x":{"field":"t"},"y":{"field":"y"}}},
{"data":{"name":"D3"},"mark":{"type":"point","shape":"circle","filled":true,"size":55,"stroke":"black","strokeWidth":1,"opacity":1},"encoding":{"x":{"field":"t"},"y":{"field":"y"},"fill":{"condition":{"test":"datum.f==1","value":"#FF0000"},"value":"white"}}},
{"data":{"values":[{}]},"mark":{"type":"rule","color":"black","strokeWidth":2.5},"encoding":{"x":{"datum":0},"y":{"datum":120.3},"y2":{"datum":115.5}}},
{"data":{"values":[{}]},"mark":{"type":"point","shape":"triangle-down","filled":true,"color":"black","size":90,"opacity":1},"encoding":{"x":{"datum":0},"y":{"datum":114.3}}},
{"data":{"values":[{}]},"mark":{"type":"text","text":"Heroin","fontSize":13,"fontWeight":"bold"},"encoding":{"x":{"datum":0},"y":{"datum":123}}},
{"data":{"values":[{}]},"mark":{"type":"text","text":"(30 min)","fontSize":15,"fontWeight":"bold"},"encoding":{"x":{"datum":25.4},"y":{"datum":127.5}}}
]},
{"width":70,"height":10,"data":{"values":[]},"mark":"point","encoding":{}},
{"width":200,"height":202,
"encoding":{"x":{"type":"quantitative","scale":{"domain":[-10,60],"nice":false},"axis":{"values":[-10,0,10,20,30,40,50,60],"labelExpr":"datum.value % 20 == 0 ? datum.label : ''","title":"Time (min)","titlePadding":5}},"y":{"type":"quantitative","scale":{"domain":[60,120],"nice":false},"axis":{"values":[60,70,80,90,100,110,120],"labels":false,"title":null}}},
"layer":[
{"data":{"values":[{}]},"mark":{"type":"rule","strokeDash":[2,3],"color":"black","strokeWidth":1.2},"encoding":{"x":{"datum":-10},"x2":{"datum":60},"y":{"datum":100}}},
{"data":{"values":[{}]},"mark":{"type":"rule","strokeDash":[2,3],"color":"black","strokeWidth":1.2},"encoding":{"x":{"datum":0},"y":{"datum":60},"y2":{"datum":113.5}}},
{"data":{"name":"D4"},"mark":{"type":"errorbar","color":"#333","thickness":1.3},"encoding":{"x":{"field":"t"},"y":{"field":"y"},"yError":{"field":"e"}}},
{"data":{"name":"D4"},"mark":{"type":"line","color":"black","strokeWidth":1},"encoding":{"x":{"field":"t"},"y":{"field":"y"}}},
{"data":{"name":"D4"},"mark":{"type":"point","shape":"circle","filled":true,"size":55,"stroke":"black","strokeWidth":1,"opacity":1},"encoding":{"x":{"field":"t"},"y":{"field":"y"},"fill":{"condition":{"test":"datum.f==1","value":"#FF0000"},"value":"white"}}},
{"data":{"values":[{}]},"mark":{"type":"rule","color":"black","strokeWidth":2.5},"encoding":{"x":{"datum":0},"y":{"datum":120.3},"y2":{"datum":115.5}}},
{"data":{"values":[{}]},"mark":{"type":"point","shape":"triangle-down","filled":true,"color":"black","size":90,"opacity":1},"encoding":{"x":{"datum":0},"y":{"datum":114.3}}},
{"data":{"values":[{}]},"mark":{"type":"text","text":"Heroin","fontSize":13,"fontWeight":"bold"},"encoding":{"x":{"datum":0},"y":{"datum":123.4}}},
{"data":{"values":[{}]},"mark":{"type":"text","text":"(150 min)","fontSize":15,"fontWeight":"bold"},"encoding":{"x":{"datum":25.3},"y":{"datum":128}}}
]},
{"width":95,"height":10,"data":{"values":[]},"mark":"point","encoding":{}},
{"width":136,"height":202,"layer":[
{"data":{"values":[{}]},"mark":{"type":"rule","color":"#888","strokeWidth":1.5},"encoding":{"y":{"datum":0,"type":"quantitative"}}},
{"data":{"name":"D5"},"mark":{"type":"bar","fill":"#FF0000","stroke":"black","strokeWidth":1},"encoding":{"x":{"field":"g","type":"nominal","sort":["-120","30","150"],"scale":{"paddingInner":0.34,"paddingOuter":0.165},"axis":{"title":"Time (min)","labelAngle":0,"ticks":false,"labelPadding":6,"titlePadding":5}},"y":{"field":"v","type":"quantitative","scale":{"domain":[-6000,2000],"nice":false},"axis":{"title":"AUC","values":[-6000,-5000,-4000,-3000,-2000,-1000,0,1000,2000],"labelExpr":"datum.value % 2000 == 0 ? datum.label : ''","tickSize":{"condition":{"test":"datum.value % 2000 != 0","value":3},"value":6}}}}},
{"data":{"name":"D5"},"mark":{"type":"rule","color":"black","strokeWidth":1.5},"encoding":{"x":{"field":"g","type":"nominal","sort":["-120","30","150"]},"y":{"field":"v","type":"quantitative"},"y2":{"field":"e"}}},
{"data":{"name":"D5"},"mark":{"type":"tick","color":"black","thickness":1.5,"size":14},"encoding":{"x":{"field":"g","type":"nominal","sort":["-120","30","150"]},"y":{"field":"e","type":"quantitative"}}},
{"data":{"values":[{}]},"mark":{"type":"text","text":"Naloxone-MET","fontSize":15,"fontWeight":"bold"},"encoding":{"x":{"datum":"30","type":"nominal"},"y":{"datum":2396,"type":"quantitative"}}}
]}
]
}
